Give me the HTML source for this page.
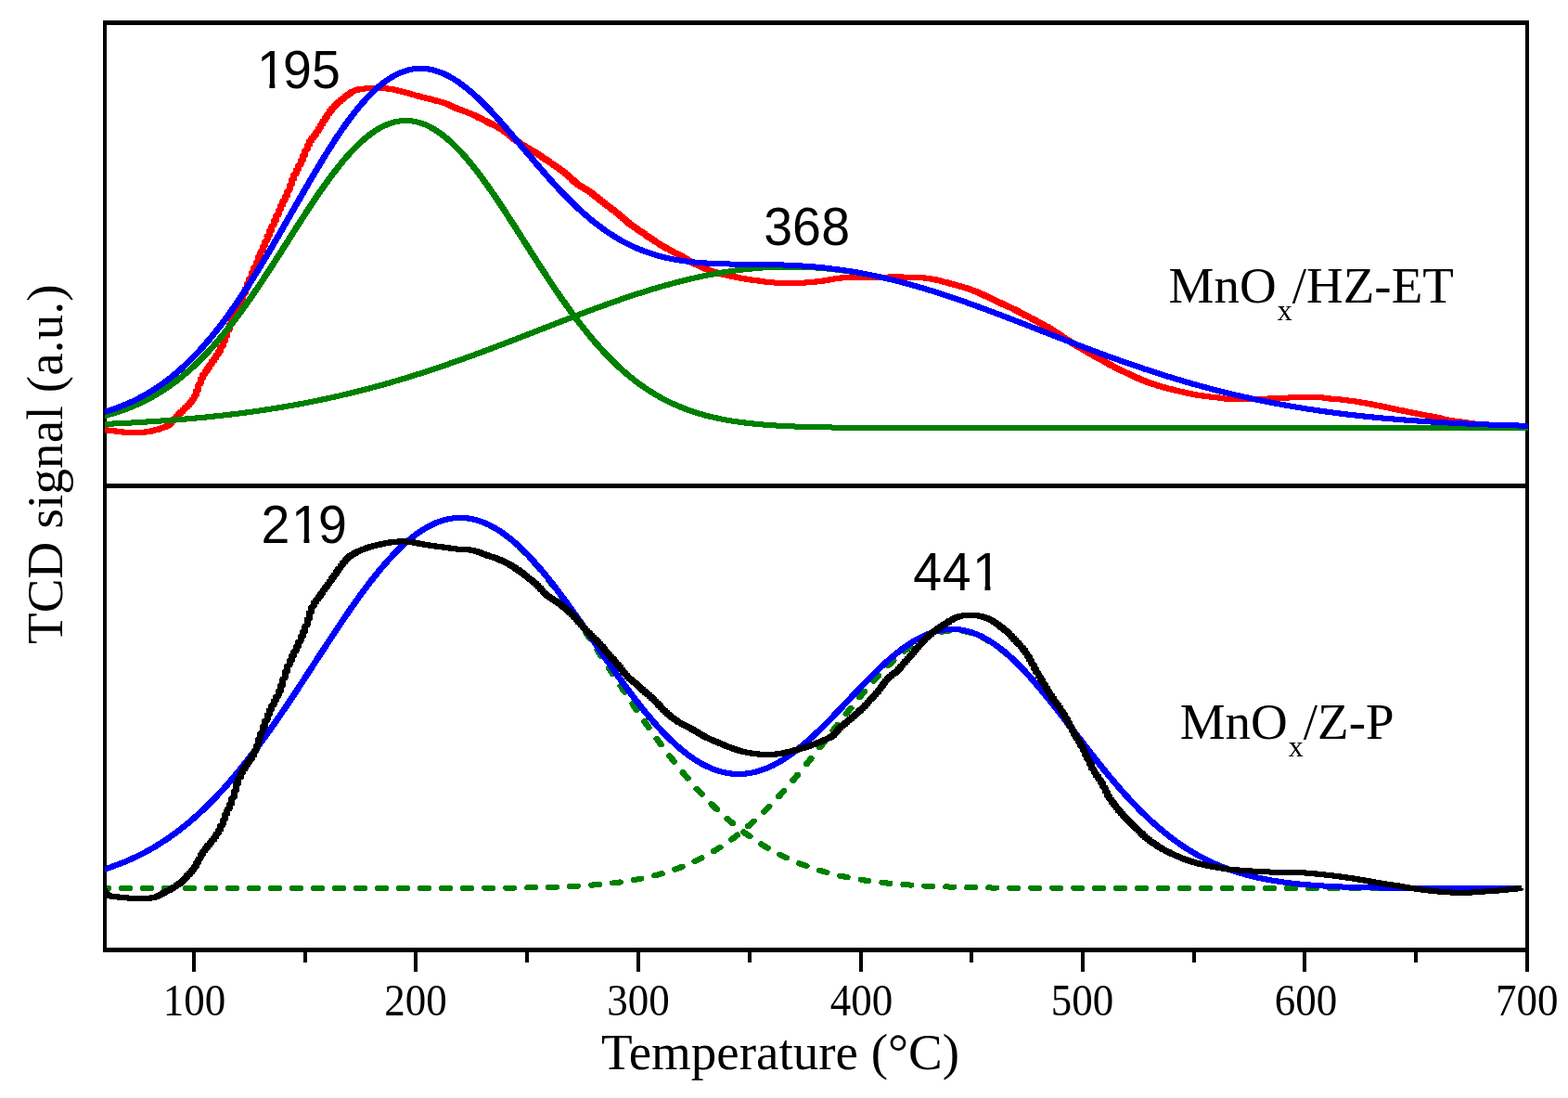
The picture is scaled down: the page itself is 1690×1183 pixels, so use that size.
<!DOCTYPE html>
<html lang="en">
<head>
<meta charset="utf-8">
<title>TCD signal vs Temperature</title>
<style>
html,body{margin:0;padding:0;background:#fff;overflow:hidden}
svg{display:block}
</style>
</head>
<body>
<svg xmlns="http://www.w3.org/2000/svg" width="1690" height="1183" viewBox="0 0 1690 1183">
<rect width="1690" height="1183" fill="#fff"/>
<defs><clipPath id="cp"><rect x="113" y="0" width="1540" height="1183"/></clipPath><clipPath id="cd"><rect x="115" y="0" width="1540" height="1183"/></clipPath></defs>
<g fill="#000" shape-rendering="crispEdges">
<rect x="111" y="22" width="1537" height="5"/>
<rect x="111" y="521" width="1537" height="5"/>
<rect x="111" y="1021" width="1537" height="5"/>
<rect x="111" y="22" width="4" height="1004"/>
<rect x="1644" y="22" width="4" height="1025"/>
<rect x="207" y="1024" width="4" height="23"/>
<rect x="446" y="1024" width="4" height="23"/>
<rect x="686" y="1024" width="4" height="23"/>
<rect x="926" y="1024" width="4" height="23"/>
<rect x="1165" y="1024" width="4" height="23"/>
<rect x="1404" y="1024" width="4" height="23"/>
<rect x="327" y="1024" width="4" height="13"/>
<rect x="566" y="1024" width="4" height="13"/>
<rect x="806" y="1024" width="4" height="13"/>
<rect x="1045" y="1024" width="4" height="13"/>
<rect x="1285" y="1024" width="4" height="13"/>
<rect x="1524" y="1024" width="4" height="13"/>
</g>
<g fill="none" stroke-width="6" stroke-linejoin="round" stroke-linecap="butt" clip-path="url(#cp)" shape-rendering="crispEdges">
<path id="cR" transform="translate(-0.5,0)" stroke="#ff0000" d="M108.4,462.9 L108.4,462.9 L110.8,463.0 L110.8,463.1 L113.2,463.1 L113.2,463.3 L115.6,463.4 L115.6,463.6 L118.0,463.6 L118.0,463.8 L120.4,463.9 L120.4,464.1 L122.8,464.1 L122.8,464.4 L125.2,464.4 L125.2,464.7 L127.6,464.7 L127.6,465.0 L130.0,465.0 L130.0,465.3 L132.4,465.3 L132.4,465.6 L134.8,465.6 L134.8,465.8 L137.2,465.8 L137.2,465.9 L139.5,465.9 L139.5,465.9 L141.9,465.9 L141.9,465.9 L144.3,465.9 L144.3,465.9 L146.7,465.9 L146.7,465.9 L149.1,465.9 L149.1,465.9 L151.5,465.9 L151.5,465.9 L153.9,465.8 L153.9,465.7 L156.3,465.7 L156.3,465.4 L158.7,465.4 L158.7,465.1 L161.1,465.0 L161.1,464.6 L163.5,464.6 L163.5,464.1 L165.9,464.0 L165.9,463.5 L168.3,463.4 L168.3,462.9 L170.7,462.8 L170.7,462.1 L173.1,462.0 L173.1,461.4 L175.5,461.2 L175.5,460.6 L177.9,460.5 L177.9,459.7 L180.3,459.6 L180.3,458.4 L182.7,458.2 L182.7,456.5 L185.1,456.1 L185.1,453.9 L187.4,453.5 L187.4,451.3 L189.8,450.9 L189.8,448.7 L192.2,448.3 L192.2,446.1 L194.6,445.7 L194.6,443.6 L197.0,443.3 L197.0,441.3 L199.4,440.9 L199.4,439.0 L201.8,438.7 L201.8,436.7 L204.2,436.3 L204.2,434.1 L206.6,433.6 L206.6,430.9 L209.0,430.3 L209.0,426.7 L211.4,426.0 L211.4,421.1 L213.8,420.1 L213.8,414.4 L216.2,413.4 L216.2,408.3 L218.6,407.5 L218.6,403.8 L221.0,403.3 L221.0,400.2 L223.4,399.6 L223.4,396.6 L225.8,396.0 L225.8,392.9 L228.2,392.4 L228.2,389.4 L230.6,388.9 L230.6,386.0 L232.9,385.5 L232.9,382.6 L235.3,382.0 L235.3,378.7 L237.7,378.1 L237.7,374.0 L240.1,373.3 L240.1,368.5 L242.5,367.6 L242.5,362.4 L244.9,361.5 L244.9,356.2 L247.3,355.2 L247.3,350.1 L249.7,349.2 L249.7,344.3 L252.1,343.5 L252.1,338.8 L254.5,338.0 L254.5,333.5 L256.9,332.7 L256.9,328.1 L259.3,327.3 L259.3,322.7 L261.7,321.9 L261.7,317.1 L264.1,316.3 L264.1,311.5 L266.5,310.6 L266.5,305.7 L268.9,304.8 L268.9,299.9 L271.3,299.1 L271.3,294.1 L273.7,293.3 L273.7,288.3 L276.1,287.5 L276.1,282.6 L278.5,281.7 L278.5,276.8 L280.9,276.0 L280.9,271.2 L283.2,270.3 L283.2,265.6 L285.6,264.7 L285.6,260.0 L288.0,259.2 L288.0,254.5 L290.4,253.6 L290.4,249.0 L292.8,248.1 L292.8,243.5 L295.2,242.6 L295.2,237.9 L297.6,237.1 L297.6,232.4 L300.0,231.5 L300.0,226.8 L302.4,225.9 L302.4,221.4 L304.8,220.6 L304.8,216.5 L307.2,215.7 L307.2,211.7 L309.6,210.9 L309.6,206.3 L312.0,205.4 L312.0,200.0 L314.4,199.0 L314.4,193.6 L316.8,192.7 L316.8,188.1 L319.2,187.4 L319.2,183.3 L321.6,182.6 L321.6,178.4 L324.0,177.7 L324.0,173.2 L326.4,172.4 L326.4,167.7 L328.8,166.9 L328.8,162.1 L331.1,161.3 L331.1,156.7 L333.5,155.9 L333.5,152.1 L335.9,151.5 L335.9,148.6 L338.3,148.2 L338.3,145.6 L340.7,145.2 L340.7,142.2 L343.1,141.6 L343.1,138.3 L345.5,137.7 L345.5,134.3 L347.9,133.7 L347.9,130.4 L350.3,129.8 L350.3,126.6 L352.7,126.0 L352.7,123.0 L355.1,122.4 L355.1,119.6 L357.5,119.2 L357.5,116.7 L359.9,116.3 L359.9,114.1 L362.3,113.7 L362.3,111.7 L364.7,111.4 L364.7,109.5 L367.1,109.2 L367.1,107.5 L369.5,107.2 L369.5,105.5 L371.9,105.2 L371.9,103.6 L374.3,103.4 L374.3,101.8 L376.6,101.6 L376.6,100.2 L379.0,100.0 L379.0,98.8 L381.4,98.6 L381.4,97.7 L383.8,97.5 L383.8,96.8 L386.2,96.7 L386.2,96.2 L388.6,96.1 L388.6,95.8 L391.0,95.8 L391.0,95.5 L393.4,95.5 L393.4,95.3 L395.8,95.3 L395.8,95.2 L398.2,95.1 L398.2,95.1 L400.6,95.0 L400.6,95.0 L403.0,95.0 L403.0,95.0 L405.4,95.0 L405.4,95.0 L407.8,95.0 L407.8,95.0 L410.2,95.0 L410.2,95.1 L412.6,95.1 L412.6,95.2 L415.0,95.2 L415.0,95.4 L417.4,95.4 L417.4,95.6 L419.8,95.7 L419.8,96.0 L422.2,96.0 L422.2,96.4 L424.6,96.4 L424.6,96.8 L426.9,96.9 L426.9,97.4 L429.3,97.5 L429.3,97.9 L431.7,98.0 L431.7,98.5 L434.1,98.6 L434.1,99.1 L436.5,99.2 L436.5,99.7 L438.9,99.8 L438.9,100.5 L441.3,100.6 L441.3,101.2 L443.7,101.3 L443.7,101.9 L446.1,102.0 L446.1,102.5 L448.5,102.6 L448.5,103.2 L450.9,103.3 L450.9,103.8 L453.3,103.9 L453.3,104.4 L455.7,104.5 L455.7,105.0 L458.1,105.1 L458.1,105.6 L460.5,105.7 L460.5,106.2 L462.9,106.3 L462.9,106.8 L465.3,106.9 L465.3,107.4 L467.7,107.5 L467.7,108.1 L470.1,108.2 L470.1,108.7 L472.4,108.8 L472.4,109.4 L474.8,109.5 L474.8,110.0 L477.2,110.1 L477.2,110.7 L479.6,110.8 L479.6,111.5 L482.0,111.7 L482.0,112.5 L484.4,112.6 L484.4,113.6 L486.8,113.8 L486.8,114.8 L489.2,115.0 L489.2,115.9 L491.6,116.1 L491.6,116.9 L494.0,117.0 L494.0,117.8 L496.4,117.9 L496.4,118.6 L498.8,118.8 L498.8,119.6 L501.2,119.7 L501.2,120.5 L503.6,120.6 L503.6,121.4 L506.0,121.6 L506.0,122.4 L508.4,122.5 L508.4,123.4 L510.8,123.6 L510.8,124.5 L513.2,124.7 L513.2,125.6 L515.6,125.8 L515.6,126.9 L518.0,127.0 L518.0,128.1 L520.4,128.3 L520.4,129.4 L522.7,129.6 L522.7,130.6 L525.1,130.8 L525.1,131.9 L527.5,132.0 L527.5,133.0 L529.9,133.2 L529.9,134.2 L532.3,134.3 L532.3,135.3 L534.7,135.5 L534.7,136.5 L537.1,136.7 L537.1,137.8 L539.5,138.0 L539.5,139.3 L541.9,139.5 L541.9,140.9 L544.3,141.1 L544.3,142.6 L546.7,142.9 L546.7,144.5 L549.1,144.8 L549.1,146.6 L551.5,146.9 L551.5,148.6 L553.9,148.8 L553.9,150.4 L556.3,150.7 L556.3,152.1 L558.7,152.4 L558.7,153.8 L561.1,154.0 L561.1,155.3 L563.5,155.6 L563.5,156.9 L565.9,157.1 L565.9,158.3 L568.2,158.6 L568.2,159.8 L570.6,160.0 L570.6,161.2 L573.0,161.4 L573.0,162.6 L575.4,162.8 L575.4,164.0 L577.8,164.2 L577.8,165.5 L580.2,165.7 L580.2,167.1 L582.6,167.3 L582.6,168.7 L585.0,168.9 L585.0,170.3 L587.4,170.5 L587.4,171.9 L589.8,172.2 L589.8,173.6 L592.2,173.8 L592.2,175.2 L594.6,175.5 L594.6,176.8 L597.0,177.1 L597.0,178.4 L599.4,178.7 L599.4,180.1 L601.8,180.3 L601.8,181.8 L604.2,182.0 L604.2,183.5 L606.6,183.8 L606.6,185.4 L609.0,185.7 L609.0,187.4 L611.4,187.7 L611.4,189.5 L613.8,189.8 L613.8,191.6 L616.1,191.9 L616.1,193.8 L618.5,194.1 L618.5,195.9 L620.9,196.2 L620.9,197.8 L623.3,198.1 L623.3,199.5 L625.7,199.8 L625.7,201.1 L628.1,201.3 L628.1,202.5 L630.5,202.8 L630.5,204.0 L632.9,204.2 L632.9,205.6 L635.3,205.8 L635.3,207.3 L637.7,207.5 L637.7,209.0 L640.1,209.3 L640.1,210.9 L642.5,211.2 L642.5,212.8 L644.9,213.1 L644.9,214.7 L647.3,215.0 L647.3,216.6 L649.7,216.9 L649.7,218.5 L652.1,218.8 L652.1,220.4 L654.5,220.6 L654.5,222.2 L656.9,222.5 L656.9,224.0 L659.3,224.3 L659.3,225.8 L661.7,226.1 L661.7,227.6 L664.0,227.9 L664.0,229.5 L666.4,229.8 L666.4,231.5 L668.8,231.9 L668.8,233.6 L671.2,233.9 L671.2,235.7 L673.6,236.0 L673.6,237.8 L676.0,238.1 L676.0,239.8 L678.4,240.1 L678.4,241.7 L680.8,241.9 L680.8,243.4 L683.2,243.7 L683.2,245.1 L685.6,245.4 L685.6,246.7 L688.0,247.0 L688.0,248.4 L690.4,248.6 L690.4,250.0 L692.8,250.2 L692.8,251.6 L695.2,251.9 L695.2,253.3 L697.6,253.5 L697.6,254.9 L700.0,255.2 L700.0,256.6 L702.4,256.8 L702.4,258.2 L704.8,258.4 L704.8,259.7 L707.2,260.0 L707.2,261.3 L709.6,261.5 L709.6,262.7 L712.0,263.0 L712.0,264.2 L714.3,264.4 L714.3,265.6 L716.7,265.9 L716.7,267.0 L719.1,267.2 L719.1,268.4 L721.5,268.6 L721.5,269.7 L723.9,269.9 L723.9,271.0 L726.3,271.2 L726.3,272.3 L728.7,272.5 L728.7,273.5 L731.1,273.7 L731.1,274.8 L733.5,275.0 L733.5,276.1 L735.9,276.2 L735.9,277.4 L738.3,277.6 L738.3,278.8 L740.7,279.0 L740.7,280.2 L743.1,280.4 L743.1,281.6 L745.5,281.8 L745.5,282.9 L747.9,283.1 L747.9,284.2 L750.3,284.4 L750.3,285.4 L752.7,285.6 L752.7,286.6 L755.1,286.8 L755.1,287.7 L757.5,287.9 L757.5,288.7 L759.9,288.9 L759.9,289.7 L762.2,289.9 L762.2,290.7 L764.6,290.8 L764.6,291.5 L767.0,291.7 L767.0,292.4 L769.4,292.5 L769.4,293.2 L771.8,293.3 L771.8,293.9 L774.2,294.0 L774.2,294.6 L776.6,294.7 L776.6,295.2 L779.0,295.3 L779.0,295.8 L781.4,295.8 L781.4,296.3 L783.8,296.4 L783.8,296.8 L786.2,296.9 L786.2,297.3 L788.6,297.4 L788.6,297.9 L791.0,297.9 L791.0,298.4 L793.4,298.4 L793.4,298.9 L795.8,298.9 L795.8,299.3 L798.2,299.4 L798.2,299.8 L800.6,299.9 L800.6,300.2 L803.0,300.3 L803.0,300.6 L805.4,300.7 L805.4,301.0 L807.8,301.1 L807.8,301.4 L810.1,301.4 L810.1,301.7 L812.5,301.8 L812.5,302.1 L814.9,302.1 L814.9,302.4 L817.3,302.4 L817.3,302.7 L819.7,302.8 L819.7,303.1 L822.1,303.1 L822.1,303.4 L824.5,303.5 L824.5,303.7 L826.9,303.8 L826.9,304.0 L829.3,304.0 L829.3,304.2 L831.7,304.3 L831.7,304.4 L834.1,304.4 L834.1,304.5 L836.5,304.6 L836.5,304.7 L838.9,304.7 L838.9,304.8 L841.3,304.8 L841.3,304.9 L843.7,304.9 L843.7,304.9 L846.1,304.9 L846.1,304.9 L848.5,304.9 L848.5,304.9 L850.9,304.9 L850.9,304.9 L853.3,304.9 L853.3,304.9 L855.6,304.9 L855.6,304.9 L858.0,304.9 L858.0,304.9 L860.4,304.9 L860.4,304.8 L862.8,304.8 L862.8,304.8 L865.2,304.7 L865.2,304.6 L867.6,304.6 L867.6,304.5 L870.0,304.4 L870.0,304.3 L872.4,304.2 L872.4,304.1 L874.8,304.0 L874.8,303.9 L877.2,303.8 L877.2,303.6 L879.6,303.6 L879.6,303.3 L882.0,303.3 L882.0,303.0 L884.4,303.0 L884.4,302.7 L886.8,302.7 L886.8,302.4 L889.2,302.3 L889.2,301.9 L891.6,301.9 L891.6,301.5 L894.0,301.5 L894.0,301.1 L896.4,301.1 L896.4,300.8 L898.8,300.7 L898.8,300.4 L901.2,300.4 L901.2,300.1 L903.5,300.0 L903.5,299.7 L905.9,299.7 L905.9,299.4 L908.3,299.4 L908.3,299.2 L910.7,299.1 L910.7,299.0 L913.1,299.0 L913.1,299.0 L915.5,299.0 L915.5,299.0 L917.9,299.0 L917.9,299.0 L920.3,299.0 L920.3,299.0 L922.7,299.0 L922.7,299.0 L925.1,299.0 L925.1,299.0 L927.5,299.0 L927.5,299.0 L929.9,299.0 L929.9,299.0 L932.3,299.0 L932.3,298.9 L934.7,298.9 L934.7,298.9 L937.1,298.9 L937.1,298.9 L939.5,298.8 L939.5,298.8 L941.9,298.8 L941.9,298.8 L944.3,298.8 L944.3,298.7 L946.7,298.7 L946.7,298.7 L949.1,298.7 L949.1,298.6 L951.5,298.6 L951.5,298.6 L953.8,298.5 L953.8,298.5 L956.2,298.5 L956.2,298.5 L958.6,298.5 L958.6,298.4 L961.0,298.4 L961.0,298.4 L963.4,298.4 L963.4,298.3 L965.8,298.3 L965.8,298.3 L968.2,298.3 L968.2,298.3 L970.6,298.3 L970.6,298.4 L973.0,298.4 L973.0,298.5 L975.4,298.5 L975.4,298.6 L977.8,298.6 L977.8,298.7 L980.2,298.7 L980.2,298.9 L982.6,298.9 L982.6,298.9 L985.0,299.0 L985.0,299.0 L987.4,299.0 L987.4,299.1 L989.8,299.1 L989.8,299.2 L992.2,299.2 L992.2,299.3 L994.6,299.3 L994.6,299.4 L997.0,299.5 L997.0,299.7 L999.4,299.7 L999.4,300.0 L1001.7,300.0 L1001.7,300.4 L1004.1,300.4 L1004.1,300.8 L1006.5,300.9 L1006.5,301.2 L1008.9,301.3 L1008.9,301.7 L1011.3,301.8 L1011.3,302.3 L1013.7,302.4 L1013.7,302.9 L1016.1,303.0 L1016.1,303.6 L1018.5,303.7 L1018.5,304.2 L1020.9,304.3 L1020.9,304.9 L1023.3,305.0 L1023.3,305.6 L1025.7,305.7 L1025.7,306.2 L1028.1,306.3 L1028.1,306.8 L1030.5,306.9 L1030.5,307.5 L1032.9,307.6 L1032.9,308.2 L1035.3,308.3 L1035.3,308.9 L1037.7,309.0 L1037.7,309.6 L1040.1,309.7 L1040.1,310.3 L1042.5,310.4 L1042.5,311.1 L1044.9,311.2 L1044.9,311.9 L1047.2,312.0 L1047.2,312.7 L1049.6,312.8 L1049.6,313.6 L1052.0,313.7 L1052.0,314.6 L1054.4,314.7 L1054.4,315.6 L1056.8,315.8 L1056.8,316.7 L1059.2,316.9 L1059.2,317.8 L1061.6,318.0 L1061.6,319.0 L1064.0,319.1 L1064.0,320.1 L1066.4,320.3 L1066.4,321.3 L1068.8,321.4 L1068.8,322.4 L1071.2,322.6 L1071.2,323.6 L1073.6,323.7 L1073.6,324.7 L1076.0,324.9 L1076.0,325.9 L1078.4,326.0 L1078.4,327.0 L1080.8,327.2 L1080.8,328.1 L1083.2,328.3 L1083.2,329.2 L1085.6,329.4 L1085.6,330.3 L1088.0,330.4 L1088.0,331.4 L1090.4,331.5 L1090.4,332.5 L1092.8,332.7 L1092.8,333.7 L1095.2,333.9 L1095.2,334.9 L1097.5,335.1 L1097.5,336.2 L1099.9,336.4 L1099.9,337.5 L1102.3,337.7 L1102.3,338.7 L1104.7,338.9 L1104.7,340.0 L1107.1,340.2 L1107.1,341.2 L1109.5,341.4 L1109.5,342.5 L1111.9,342.7 L1111.9,343.7 L1114.3,343.9 L1114.3,345.0 L1116.7,345.2 L1116.7,346.2 L1119.1,346.4 L1119.1,347.5 L1121.5,347.7 L1121.5,348.8 L1123.9,349.0 L1123.9,350.1 L1126.3,350.3 L1126.3,351.4 L1128.7,351.6 L1128.7,352.8 L1131.1,353.0 L1131.1,354.2 L1133.5,354.4 L1133.5,355.7 L1135.9,355.9 L1135.9,357.3 L1138.3,357.5 L1138.3,358.9 L1140.7,359.1 L1140.7,360.5 L1143.0,360.8 L1143.0,362.2 L1145.4,362.4 L1145.4,363.8 L1147.8,364.0 L1147.8,365.3 L1150.2,365.5 L1150.2,366.8 L1152.6,367.0 L1152.6,368.3 L1155.0,368.5 L1155.0,369.8 L1157.4,370.0 L1157.4,371.2 L1159.8,371.5 L1159.8,372.7 L1162.2,372.9 L1162.2,374.2 L1164.6,374.4 L1164.6,375.6 L1167.0,375.8 L1167.0,377.1 L1169.4,377.3 L1169.4,378.5 L1171.8,378.7 L1171.8,379.9 L1174.2,380.1 L1174.2,381.3 L1176.6,381.5 L1176.6,382.6 L1179.0,382.8 L1179.0,383.9 L1181.4,384.0 L1181.4,385.1 L1183.8,385.3 L1183.8,386.3 L1186.2,386.5 L1186.2,387.6 L1188.6,387.8 L1188.6,388.9 L1191.0,389.1 L1191.0,390.3 L1193.3,390.5 L1193.3,391.7 L1195.7,391.9 L1195.7,393.1 L1198.1,393.3 L1198.1,394.4 L1200.5,394.6 L1200.5,395.7 L1202.9,395.9 L1202.9,397.0 L1205.3,397.1 L1205.3,398.1 L1207.7,398.3 L1207.7,399.3 L1210.1,399.4 L1210.1,400.3 L1212.5,400.5 L1212.5,401.4 L1214.9,401.6 L1214.9,402.5 L1217.3,402.7 L1217.3,403.7 L1219.7,403.8 L1219.7,404.8 L1222.1,405.0 L1222.1,406.0 L1224.5,406.2 L1224.5,407.1 L1226.9,407.3 L1226.9,408.2 L1229.3,408.3 L1229.3,409.2 L1231.7,409.3 L1231.7,410.1 L1234.1,410.3 L1234.1,411.0 L1236.5,411.2 L1236.5,411.9 L1238.8,412.0 L1238.8,412.8 L1241.2,412.9 L1241.2,413.6 L1243.6,413.7 L1243.6,414.4 L1246.0,414.5 L1246.0,415.1 L1248.4,415.2 L1248.4,415.9 L1250.8,416.0 L1250.8,416.6 L1253.2,416.7 L1253.2,417.3 L1255.6,417.4 L1255.6,417.9 L1258.0,418.0 L1258.0,418.6 L1260.4,418.7 L1260.4,419.2 L1262.8,419.3 L1262.8,419.8 L1265.2,419.9 L1265.2,420.4 L1267.6,420.5 L1267.6,420.9 L1270.0,421.0 L1270.0,421.5 L1272.4,421.6 L1272.4,422.1 L1274.8,422.2 L1274.8,422.6 L1277.2,422.7 L1277.2,423.2 L1279.6,423.3 L1279.6,423.7 L1282.0,423.8 L1282.0,424.3 L1284.4,424.3 L1284.4,424.7 L1286.8,424.8 L1286.8,425.1 L1289.1,425.2 L1289.1,425.6 L1291.5,425.6 L1291.5,425.9 L1293.9,426.0 L1293.9,426.3 L1296.3,426.3 L1296.3,426.6 L1298.7,426.7 L1298.7,426.9 L1301.1,427.0 L1301.1,427.2 L1303.5,427.3 L1303.5,427.5 L1305.9,427.5 L1305.9,427.7 L1308.3,427.8 L1308.3,428.0 L1310.7,428.0 L1310.7,428.3 L1313.1,428.3 L1313.1,428.6 L1315.5,428.7 L1315.5,429.0 L1317.9,429.1 L1317.9,429.4 L1320.3,429.5 L1320.3,429.7 L1322.7,429.8 L1322.7,429.9 L1325.1,430.0 L1325.1,430.0 L1327.5,430.0 L1327.5,430.0 L1329.9,430.1 L1329.9,430.1 L1332.3,430.1 L1332.3,430.1 L1334.7,430.1 L1334.7,430.1 L1337.0,430.1 L1337.0,430.1 L1339.4,430.1 L1339.4,430.1 L1341.8,430.1 L1341.8,430.1 L1344.2,430.1 L1344.2,430.1 L1346.6,430.1 L1346.6,430.1 L1349.0,430.1 L1349.0,430.0 L1351.4,430.0 L1351.4,430.0 L1353.8,430.0 L1353.8,430.0 L1356.2,430.0 L1356.2,429.9 L1358.6,429.9 L1358.6,429.9 L1361.0,429.9 L1361.0,429.8 L1363.4,429.8 L1363.4,429.7 L1365.8,429.6 L1365.8,429.5 L1368.2,429.5 L1368.2,429.3 L1370.6,429.3 L1370.6,429.1 L1373.0,429.1 L1373.0,429.0 L1375.4,429.0 L1375.4,428.9 L1377.8,428.9 L1377.8,428.8 L1380.2,428.8 L1380.2,428.7 L1382.5,428.7 L1382.5,428.6 L1384.9,428.6 L1384.9,428.6 L1387.3,428.6 L1387.3,428.5 L1389.7,428.5 L1389.7,428.4 L1392.1,428.4 L1392.1,428.3 L1394.5,428.3 L1394.5,428.2 L1396.9,428.2 L1396.9,428.1 L1399.3,428.1 L1399.3,428.0 L1401.7,428.0 L1401.7,428.0 L1404.1,428.0 L1404.1,428.0 L1406.5,428.0 L1406.5,428.0 L1408.9,428.0 L1408.9,428.0 L1411.3,428.0 L1411.3,428.0 L1413.7,428.0 L1413.7,428.0 L1416.1,428.0 L1416.1,428.0 L1418.5,428.0 L1418.5,428.1 L1420.9,428.1 L1420.9,428.2 L1423.3,428.2 L1423.3,428.4 L1425.7,428.4 L1425.7,428.6 L1428.1,428.7 L1428.1,428.9 L1430.5,429.0 L1430.5,429.2 L1432.8,429.2 L1432.8,429.5 L1435.2,429.5 L1435.2,429.7 L1437.6,429.7 L1437.6,429.9 L1440.0,430.0 L1440.0,430.1 L1442.4,430.2 L1442.4,430.4 L1444.8,430.4 L1444.8,430.6 L1447.2,430.7 L1447.2,430.9 L1449.6,430.9 L1449.6,431.2 L1452.0,431.2 L1452.0,431.5 L1454.4,431.5 L1454.4,431.8 L1456.8,431.8 L1456.8,432.1 L1459.2,432.2 L1459.2,432.4 L1461.6,432.5 L1461.6,432.8 L1464.0,432.9 L1464.0,433.2 L1466.4,433.2 L1466.4,433.6 L1468.8,433.6 L1468.8,434.0 L1471.2,434.1 L1471.2,434.4 L1473.6,434.5 L1473.6,434.9 L1476.0,435.0 L1476.0,435.3 L1478.3,435.4 L1478.3,435.8 L1480.7,435.9 L1480.7,436.3 L1483.1,436.4 L1483.1,436.8 L1485.5,436.8 L1485.5,437.3 L1487.9,437.3 L1487.9,437.8 L1490.3,437.8 L1490.3,438.3 L1492.7,438.3 L1492.7,438.8 L1495.1,438.9 L1495.1,439.3 L1497.5,439.4 L1497.5,439.8 L1499.9,439.9 L1499.9,440.3 L1502.3,440.4 L1502.3,440.8 L1504.7,440.9 L1504.7,441.3 L1507.1,441.4 L1507.1,441.8 L1509.5,441.9 L1509.5,442.3 L1511.9,442.3 L1511.9,442.7 L1514.3,442.8 L1514.3,443.2 L1516.7,443.3 L1516.7,443.7 L1519.1,443.7 L1519.1,444.1 L1521.5,444.2 L1521.5,444.6 L1523.9,444.7 L1523.9,445.1 L1526.2,445.2 L1526.2,445.6 L1528.6,445.7 L1528.6,446.1 L1531.0,446.2 L1531.0,446.6 L1533.4,446.7 L1533.4,447.1 L1535.8,447.2 L1535.8,447.5 L1538.2,447.6 L1538.2,448.0 L1540.6,448.1 L1540.6,448.4 L1543.0,448.5 L1543.0,448.9 L1545.4,449.0 L1545.4,449.4 L1547.8,449.4 L1547.8,449.8 L1550.2,449.9 L1550.2,450.4 L1552.6,450.4 L1552.6,450.9 L1555.0,451.0 L1555.0,451.5 L1557.4,451.6 L1557.4,452.1 L1559.8,452.2 L1559.8,452.6 L1562.2,452.7 L1562.2,453.0 L1564.6,453.1 L1564.6,453.4 L1567.0,453.5 L1567.0,453.7 L1569.4,453.8 L1569.4,454.0 L1571.8,454.1 L1571.8,454.3 L1574.2,454.3 L1574.2,454.6 L1576.5,454.6 L1576.5,454.9 L1578.9,455.0 L1578.9,455.3 L1581.3,455.3 L1581.3,455.6 L1583.7,455.7 L1583.7,456.0 L1586.1,456.0 L1586.1,456.3 L1588.5,456.3 L1588.5,456.6 L1590.9,456.6 L1590.9,456.8 L1593.3,456.9 L1593.3,457.1 L1595.7,457.1 L1595.7,457.3 L1598.1,457.3 L1598.1,457.4 L1600.5,457.5 L1600.5,457.6 L1602.9,457.6 L1602.9,457.7 L1605.3,457.7 L1605.3,457.8 L1607.7,457.9 L1607.7,458.0 L1610.1,458.0 L1610.1,458.1 L1612.5,458.1 L1612.5,458.1 L1614.9,458.2 L1614.9,458.2 L1617.3,458.2 L1617.3,458.3 L1619.7,458.3 L1619.7,458.3 L1622.0,458.3 L1622.0,458.3 L1624.4,458.3 L1624.4,458.4 L1626.8,458.4 L1626.8,458.4 L1629.2,458.4 L1629.2,458.4 L1631.6,458.4 L1631.6,458.4 L1634.0,458.4 L1634.0,458.5 L1636.4,458.5 L1636.4,458.5 L1638.8,458.5 L1638.8,458.5 L1641.2,458.5 L1641.2,458.5 L1643.6,458.5 L1643.6,458.5 L1646.0,458.5 L1646.0,458.5 L1646.5,458.5"/>
<use href="#cR" x="1.0"/>
<path id="cG1" transform="translate(-0.5,0)" stroke="#008000" d="M110.0,448.7 L112.0,448.2 L114.0,447.7 L116.0,447.2 L118.0,446.6 L120.0,446.0 L122.0,445.4 L124.0,444.8 L126.0,444.2 L128.0,443.5 L130.0,442.9 L132.0,442.2 L134.0,441.4 L136.0,440.7 L138.0,439.9 L140.0,439.2 L142.0,438.3 L144.0,437.5 L146.0,436.6 L148.0,435.8 L150.0,434.9 L152.0,433.9 L154.0,433.0 L156.0,432.0 L158.0,430.9 L160.0,429.9 L162.0,428.8 L164.0,427.7 L166.0,426.6 L168.0,425.4 L170.0,424.2 L172.0,423.0 L174.0,421.8 L176.0,420.5 L178.0,419.1 L180.0,417.8 L182.0,416.4 L184.0,415.0 L186.0,413.5 L188.0,412.1 L190.0,410.5 L192.0,409.0 L194.0,407.4 L196.0,405.8 L198.0,404.1 L200.0,402.4 L202.0,400.7 L204.0,399.0 L206.0,397.2 L208.0,395.3 L210.0,393.5 L212.0,391.6 L214.0,389.6 L216.0,387.6 L218.0,385.6 L220.0,383.6 L222.0,381.5 L224.0,379.4 L226.0,377.2 L228.0,375.0 L230.0,372.8 L232.0,370.5 L234.0,368.2 L236.0,365.9 L238.0,363.5 L240.0,361.1 L242.0,358.6 L244.0,356.2 L246.0,353.7 L248.0,351.1 L250.0,348.6 L252.0,345.9 L254.0,343.3 L256.0,340.6 L258.0,337.9 L260.0,335.2 L262.0,332.5 L264.0,329.7 L266.0,326.9 L268.0,324.0 L270.0,321.2 L272.0,318.3 L274.0,315.4 L276.0,312.4 L278.0,309.5 L280.0,306.5 L282.0,303.5 L284.0,300.5 L286.0,297.4 L288.0,294.4 L290.0,291.3 L292.0,288.2 L294.0,285.1 L296.0,282.0 L298.0,278.9 L300.0,275.8 L302.0,272.7 L304.0,269.5 L306.0,266.4 L308.0,263.2 L310.0,260.1 L312.0,256.9 L314.0,253.8 L316.0,250.6 L318.0,247.5 L320.0,244.4 L322.0,241.3 L324.0,238.1 L326.0,235.0 L328.0,232.0 L330.0,228.9 L332.0,225.8 L334.0,222.8 L336.0,219.8 L338.0,216.8 L340.0,213.8 L342.0,210.9 L344.0,207.9 L346.0,205.0 L348.0,202.2 L350.0,199.4 L352.0,196.6 L354.0,193.8 L356.0,191.1 L358.0,188.4 L360.0,185.8 L362.0,183.2 L364.0,180.6 L366.0,178.1 L368.0,175.6 L370.0,173.2 L372.0,170.9 L374.0,168.6 L376.0,166.3 L378.0,164.1 L380.0,162.0 L382.0,159.9 L384.0,157.9 L386.0,155.9 L388.0,154.0 L390.0,152.2 L392.0,150.4 L394.0,148.7 L396.0,147.1 L398.0,145.5 L400.0,144.0 L402.0,142.6 L404.0,141.2 L406.0,139.9 L408.0,138.7 L410.0,137.6 L412.0,136.5 L414.0,135.6 L416.0,134.7 L418.0,133.8 L420.0,133.1 L422.0,132.4 L424.0,131.8 L426.0,131.3 L428.0,130.9 L430.0,130.6 L432.0,130.3 L434.0,130.1 L436.0,130.0 L438.0,130.0 L440.0,130.1 L442.0,130.2 L444.0,130.4 L446.0,130.7 L448.0,131.1 L450.0,131.6 L452.0,132.1 L454.0,132.8 L456.0,133.5 L458.0,134.2 L460.0,135.1 L462.0,136.0 L464.0,137.1 L466.0,138.2 L468.0,139.3 L470.0,140.6 L472.0,141.9 L474.0,143.3 L476.0,144.7 L478.0,146.3 L480.0,147.9 L482.0,149.5 L484.0,151.3 L486.0,153.1 L488.0,154.9 L490.0,156.9 L492.0,158.9 L494.0,160.9 L496.0,163.0 L498.0,165.2 L500.0,167.4 L502.0,169.7 L504.0,172.0 L506.0,174.4 L508.0,176.9 L510.0,179.3 L512.0,181.9 L514.0,184.4 L516.0,187.1 L518.0,189.7 L520.0,192.4 L522.0,195.2 L524.0,197.9 L526.0,200.8 L528.0,203.6 L530.0,206.5 L532.0,209.4 L534.0,212.3 L536.0,215.3 L538.0,218.3 L540.0,221.3 L542.0,224.3 L544.0,227.4 L546.0,230.4 L548.0,233.5 L550.0,236.6 L552.0,239.7 L554.0,242.8 L556.0,245.9 L558.0,249.1 L560.0,252.2 L562.0,255.4 L564.0,258.5 L566.0,261.7 L568.0,264.8 L570.0,267.9 L572.0,271.1 L574.0,274.2 L576.0,277.3 L578.0,280.5 L580.0,283.6 L582.0,286.7 L584.0,289.8 L586.0,292.8 L588.0,295.9 L590.0,298.9 L592.0,302.0 L594.0,305.0 L596.0,308.0 L598.0,310.9 L600.0,313.9 L602.0,316.8 L604.0,319.7 L606.0,322.6 L608.0,325.4 L610.0,328.3 L612.0,331.1 L614.0,333.8 L616.0,336.6 L618.0,339.3 L620.0,342.0 L622.0,344.6 L624.0,347.3 L626.0,349.8 L628.0,352.4 L630.0,354.9 L632.0,357.4 L634.0,359.9 L636.0,362.3 L638.0,364.7 L640.0,367.0 L642.0,369.4 L644.0,371.6 L646.0,373.9 L648.0,376.1 L650.0,378.3 L652.0,380.4 L654.0,382.5 L656.0,384.6 L658.0,386.6 L660.0,388.6 L662.0,390.6 L664.0,392.5 L666.0,394.4 L668.0,396.3 L670.0,398.1 L672.0,399.8 L674.0,401.6 L676.0,403.3 L678.0,405.0 L680.0,406.6 L682.0,408.2 L684.0,409.8 L686.0,411.3 L688.0,412.8 L690.0,414.3 L692.0,415.7 L694.0,417.1 L696.0,418.5 L698.0,419.8 L700.0,421.1 L702.0,422.4 L704.0,423.6 L706.0,424.8 L708.0,426.0 L710.0,427.2 L712.0,428.3 L714.0,429.4 L716.0,430.4 L718.0,431.5 L720.0,432.5 L722.0,433.4 L724.0,434.4 L726.0,435.3 L728.0,436.2 L730.0,437.1 L732.0,437.9 L734.0,438.7 L736.0,439.5 L738.0,440.3 L740.0,441.1 L742.0,441.8 L744.0,442.5 L746.0,443.2 L748.0,443.9 L750.0,444.5 L752.0,445.1 L754.0,445.7 L756.0,446.3 L758.0,446.9 L760.0,447.4 L762.0,448.0 L764.0,448.5 L766.0,449.0 L768.0,449.4 L770.0,449.9 L772.0,450.3 L774.0,450.8 L776.0,451.2 L778.0,451.6 L780.0,452.0 L782.0,452.4 L784.0,452.7 L786.0,453.1 L788.0,453.4 L790.0,453.7 L792.0,454.0 L794.0,454.3 L796.0,454.6 L798.0,454.9 L800.0,455.1 L802.0,455.4 L804.0,455.6 L806.0,455.9 L808.0,456.1 L810.0,456.3 L812.0,456.5 L814.0,456.7 L816.0,456.9 L818.0,457.1 L820.0,457.3 L822.0,457.5 L824.0,457.6 L826.0,457.8 L828.0,457.9 L830.0,458.1 L832.0,458.2 L834.0,458.4 L836.0,458.5 L838.0,458.6 L840.0,458.7 L842.0,458.8 L844.0,458.9 L846.0,459.0 L848.0,459.1 L850.0,459.2 L852.0,459.3 L854.0,459.4 L856.0,459.5 L858.0,459.5 L860.0,459.6 L862.0,459.7 L864.0,459.8 L866.0,459.8 L868.0,459.9 L870.0,459.9 L872.0,460.0 L874.0,460.0 L876.0,460.1 L878.0,460.1 L880.0,460.2 L882.0,460.2 L884.0,460.3 L886.0,460.3 L888.0,460.3 L890.0,460.4 L892.0,460.4 L894.0,460.4 L896.0,460.5 L898.0,460.5 L900.0,460.5 L902.0,460.6 L904.0,460.6 L906.0,460.6 L908.0,460.6 L910.0,460.7 L912.0,460.7 L914.0,460.7 L916.0,460.7 L918.0,460.7 L920.0,460.7 L922.0,460.8 L924.0,460.8 L926.0,460.8 L928.0,460.8 L930.0,460.8 L932.0,460.8 L934.0,460.8 L936.0,460.8 L938.0,460.8 L940.0,460.9 L942.0,460.9 L944.0,460.9 L946.0,460.9 L948.0,460.9 L950.0,460.9 L952.0,460.9 L954.0,460.9 L956.0,460.9 L958.0,460.9 L960.0,460.9 L962.0,460.9 L964.0,460.9 L966.0,460.9 L968.0,460.9 L970.0,460.9 L972.0,460.9 L974.0,461.0 L976.0,461.0 L978.0,461.0 L980.0,461.0 L982.0,461.0 L984.0,461.0 L986.0,461.0 L988.0,461.0 L990.0,461.0 L992.0,461.0 L994.0,461.0 L996.0,461.0 L998.0,461.0 L1000.0,461.0 L1002.0,461.0 L1004.0,461.0 L1006.0,461.0 L1008.0,461.0 L1010.0,461.0 L1012.0,461.0 L1014.0,461.0 L1016.0,461.0 L1018.0,461.0 L1020.0,461.0 L1022.0,461.0 L1024.0,461.0 L1026.0,461.0 L1028.0,461.0 L1030.0,461.0 L1032.0,461.0 L1034.0,461.0 L1036.0,461.0 L1038.0,461.0 L1040.0,461.0 L1042.0,461.0 L1044.0,461.0 L1046.0,461.0 L1048.0,461.0 L1050.0,461.0 L1052.0,461.0 L1054.0,461.0 L1056.0,461.0 L1058.0,461.0 L1060.0,461.0 L1062.0,461.0 L1064.0,461.0 L1066.0,461.0 L1068.0,461.0 L1070.0,461.0 L1072.0,461.0 L1074.0,461.0 L1076.0,461.0 L1078.0,461.0 L1080.0,461.0 L1082.0,461.0 L1084.0,461.0 L1086.0,461.0 L1088.0,461.0 L1090.0,461.0 L1092.0,461.0 L1094.0,461.0 L1096.0,461.0 L1098.0,461.0 L1100.0,461.0 L1102.0,461.0 L1104.0,461.0 L1106.0,461.0 L1108.0,461.0 L1110.0,461.0 L1112.0,461.0 L1114.0,461.0 L1116.0,461.0 L1118.0,461.0 L1120.0,461.0 L1122.0,461.0 L1124.0,461.0 L1126.0,461.0 L1128.0,461.0 L1130.0,461.0 L1132.0,461.0 L1134.0,461.0 L1136.0,461.0 L1138.0,461.0 L1140.0,461.0 L1142.0,461.0 L1144.0,461.0 L1146.0,461.0 L1148.0,461.0 L1150.0,461.0 L1152.0,461.0 L1154.0,461.0 L1156.0,461.0 L1158.0,461.0 L1160.0,461.0 L1162.0,461.0 L1164.0,461.0 L1166.0,461.0 L1168.0,461.0 L1170.0,461.0 L1172.0,461.0 L1174.0,461.0 L1176.0,461.0 L1178.0,461.0 L1180.0,461.0 L1182.0,461.0 L1184.0,461.0 L1186.0,461.0 L1188.0,461.0 L1190.0,461.0 L1192.0,461.0 L1194.0,461.0 L1196.0,461.0 L1198.0,461.0 L1200.0,461.0 L1202.0,461.0 L1204.0,461.0 L1206.0,461.0 L1208.0,461.0 L1210.0,461.0 L1212.0,461.0 L1214.0,461.0 L1216.0,461.0 L1218.0,461.0 L1220.0,461.0 L1222.0,461.0 L1224.0,461.0 L1226.0,461.0 L1228.0,461.0 L1230.0,461.0 L1232.0,461.0 L1234.0,461.0 L1236.0,461.0 L1238.0,461.0 L1240.0,461.0 L1242.0,461.0 L1244.0,461.0 L1246.0,461.0 L1248.0,461.0 L1250.0,461.0 L1252.0,461.0 L1254.0,461.0 L1256.0,461.0 L1258.0,461.0 L1260.0,461.0 L1262.0,461.0 L1264.0,461.0 L1266.0,461.0 L1268.0,461.0 L1270.0,461.0 L1272.0,461.0 L1274.0,461.0 L1276.0,461.0 L1278.0,461.0 L1280.0,461.0 L1282.0,461.0 L1284.0,461.0 L1286.0,461.0 L1288.0,461.0 L1290.0,461.0 L1292.0,461.0 L1294.0,461.0 L1296.0,461.0 L1298.0,461.0 L1300.0,461.0 L1302.0,461.0 L1304.0,461.0 L1306.0,461.0 L1308.0,461.0 L1310.0,461.0 L1312.0,461.0 L1314.0,461.0 L1316.0,461.0 L1318.0,461.0 L1320.0,461.0 L1322.0,461.0 L1324.0,461.0 L1326.0,461.0 L1328.0,461.0 L1330.0,461.0 L1332.0,461.0 L1334.0,461.0 L1336.0,461.0 L1338.0,461.0 L1340.0,461.0 L1342.0,461.0 L1344.0,461.0 L1346.0,461.0 L1348.0,461.0 L1350.0,461.0 L1352.0,461.0 L1354.0,461.0 L1356.0,461.0 L1358.0,461.0 L1360.0,461.0 L1362.0,461.0 L1364.0,461.0 L1366.0,461.0 L1368.0,461.0 L1370.0,461.0 L1372.0,461.0 L1374.0,461.0 L1376.0,461.0 L1378.0,461.0 L1380.0,461.0 L1382.0,461.0 L1384.0,461.0 L1386.0,461.0 L1388.0,461.0 L1390.0,461.0 L1392.0,461.0 L1394.0,461.0 L1396.0,461.0 L1398.0,461.0 L1400.0,461.0 L1402.0,461.0 L1404.0,461.0 L1406.0,461.0 L1408.0,461.0 L1410.0,461.0 L1412.0,461.0 L1414.0,461.0 L1416.0,461.0 L1418.0,461.0 L1420.0,461.0 L1422.0,461.0 L1424.0,461.0 L1426.0,461.0 L1428.0,461.0 L1430.0,461.0 L1432.0,461.0 L1434.0,461.0 L1436.0,461.0 L1438.0,461.0 L1440.0,461.0 L1442.0,461.0 L1444.0,461.0 L1446.0,461.0 L1448.0,461.0 L1450.0,461.0 L1452.0,461.0 L1454.0,461.0 L1456.0,461.0 L1458.0,461.0 L1460.0,461.0 L1462.0,461.0 L1464.0,461.0 L1466.0,461.0 L1468.0,461.0 L1470.0,461.0 L1472.0,461.0 L1474.0,461.0 L1476.0,461.0 L1478.0,461.0 L1480.0,461.0 L1482.0,461.0 L1484.0,461.0 L1486.0,461.0 L1488.0,461.0 L1490.0,461.0 L1492.0,461.0 L1494.0,461.0 L1496.0,461.0 L1498.0,461.0 L1500.0,461.0 L1502.0,461.0 L1504.0,461.0 L1506.0,461.0 L1508.0,461.0 L1510.0,461.0 L1512.0,461.0 L1514.0,461.0 L1516.0,461.0 L1518.0,461.0 L1520.0,461.0 L1522.0,461.0 L1524.0,461.0 L1526.0,461.0 L1528.0,461.0 L1530.0,461.0 L1532.0,461.0 L1534.0,461.0 L1536.0,461.0 L1538.0,461.0 L1540.0,461.0 L1542.0,461.0 L1544.0,461.0 L1546.0,461.0 L1548.0,461.0 L1550.0,461.0 L1552.0,461.0 L1554.0,461.0 L1556.0,461.0 L1558.0,461.0 L1560.0,461.0 L1562.0,461.0 L1564.0,461.0 L1566.0,461.0 L1568.0,461.0 L1570.0,461.0 L1572.0,461.0 L1574.0,461.0 L1576.0,461.0 L1578.0,461.0 L1580.0,461.0 L1582.0,461.0 L1584.0,461.0 L1586.0,461.0 L1588.0,461.0 L1590.0,461.0 L1592.0,461.0 L1594.0,461.0 L1596.0,461.0 L1598.0,461.0 L1600.0,461.0 L1602.0,461.0 L1604.0,461.0 L1606.0,461.0 L1608.0,461.0 L1610.0,461.0 L1612.0,461.0 L1614.0,461.0 L1616.0,461.0 L1618.0,461.0 L1620.0,461.0 L1622.0,461.0 L1624.0,461.0 L1626.0,461.0 L1628.0,461.0 L1630.0,461.0 L1632.0,461.0 L1634.0,461.0 L1636.0,461.0 L1638.0,461.0 L1640.0,461.0 L1642.0,461.0 L1644.0,461.0 L1646.0,461.0"/>
<use href="#cG1" x="1.0"/>
<path id="cG2" transform="translate(-0.5,0)" stroke="#008000" d="M110.0,457.0 L112.0,456.9 L114.0,456.8 L116.0,456.7 L118.0,456.6 L120.0,456.5 L122.0,456.5 L124.0,456.4 L126.0,456.3 L128.0,456.2 L130.0,456.1 L132.0,456.0 L134.0,455.9 L136.0,455.8 L138.0,455.7 L140.0,455.6 L142.0,455.5 L144.0,455.4 L146.0,455.2 L148.0,455.1 L150.0,455.0 L152.0,454.9 L154.0,454.8 L156.0,454.7 L158.0,454.5 L160.0,454.4 L162.0,454.3 L164.0,454.2 L166.0,454.0 L168.0,453.9 L170.0,453.8 L172.0,453.6 L174.0,453.5 L176.0,453.4 L178.0,453.2 L180.0,453.1 L182.0,452.9 L184.0,452.8 L186.0,452.6 L188.0,452.5 L190.0,452.3 L192.0,452.2 L194.0,452.0 L196.0,451.8 L198.0,451.7 L200.0,451.5 L202.0,451.3 L204.0,451.1 L206.0,451.0 L208.0,450.8 L210.0,450.6 L212.0,450.4 L214.0,450.2 L216.0,450.1 L218.0,449.9 L220.0,449.7 L222.0,449.5 L224.0,449.3 L226.0,449.1 L228.0,448.9 L230.0,448.6 L232.0,448.4 L234.0,448.2 L236.0,448.0 L238.0,447.8 L240.0,447.6 L242.0,447.3 L244.0,447.1 L246.0,446.9 L248.0,446.6 L250.0,446.4 L252.0,446.2 L254.0,445.9 L256.0,445.7 L258.0,445.4 L260.0,445.2 L262.0,444.9 L264.0,444.6 L266.0,444.4 L268.0,444.1 L270.0,443.8 L272.0,443.6 L274.0,443.3 L276.0,443.0 L278.0,442.7 L280.0,442.4 L282.0,442.1 L284.0,441.8 L286.0,441.5 L288.0,441.2 L290.0,440.9 L292.0,440.6 L294.0,440.3 L296.0,440.0 L298.0,439.7 L300.0,439.3 L302.0,439.0 L304.0,438.7 L306.0,438.3 L308.0,438.0 L310.0,437.6 L312.0,437.3 L314.0,436.9 L316.0,436.6 L318.0,436.2 L320.0,435.9 L322.0,435.5 L324.0,435.1 L326.0,434.7 L328.0,434.4 L330.0,434.0 L332.0,433.6 L334.0,433.2 L336.0,432.8 L338.0,432.4 L340.0,432.0 L342.0,431.6 L344.0,431.2 L346.0,430.8 L348.0,430.3 L350.0,429.9 L352.0,429.5 L354.0,429.1 L356.0,428.6 L358.0,428.2 L360.0,427.7 L362.0,427.3 L364.0,426.8 L366.0,426.4 L368.0,425.9 L370.0,425.4 L372.0,425.0 L374.0,424.5 L376.0,424.0 L378.0,423.5 L380.0,423.0 L382.0,422.5 L384.0,422.0 L386.0,421.5 L388.0,421.0 L390.0,420.5 L392.0,420.0 L394.0,419.5 L396.0,419.0 L398.0,418.5 L400.0,417.9 L402.0,417.4 L404.0,416.9 L406.0,416.3 L408.0,415.8 L410.0,415.2 L412.0,414.7 L414.0,414.1 L416.0,413.5 L418.0,413.0 L420.0,412.4 L422.0,411.8 L424.0,411.2 L426.0,410.6 L428.0,410.1 L430.0,409.5 L432.0,408.9 L434.0,408.3 L436.0,407.7 L438.0,407.1 L440.0,406.4 L442.0,405.8 L444.0,405.2 L446.0,404.6 L448.0,404.0 L450.0,403.3 L452.0,402.7 L454.0,402.0 L456.0,401.4 L458.0,400.8 L460.0,400.1 L462.0,399.4 L464.0,398.8 L466.0,398.1 L468.0,397.5 L470.0,396.8 L472.0,396.1 L474.0,395.4 L476.0,394.8 L478.0,394.1 L480.0,393.4 L482.0,392.7 L484.0,392.0 L486.0,391.3 L488.0,390.6 L490.0,389.9 L492.0,389.2 L494.0,388.5 L496.0,387.8 L498.0,387.1 L500.0,386.4 L502.0,385.6 L504.0,384.9 L506.0,384.2 L508.0,383.5 L510.0,382.7 L512.0,382.0 L514.0,381.3 L516.0,380.5 L518.0,379.8 L520.0,379.1 L522.0,378.3 L524.0,377.6 L526.0,376.8 L528.0,376.1 L530.0,375.3 L532.0,374.6 L534.0,373.8 L536.0,373.0 L538.0,372.3 L540.0,371.5 L542.0,370.8 L544.0,370.0 L546.0,369.2 L548.0,368.5 L550.0,367.7 L552.0,366.9 L554.0,366.1 L556.0,365.4 L558.0,364.6 L560.0,363.8 L562.0,363.0 L564.0,362.3 L566.0,361.5 L568.0,360.7 L570.0,359.9 L572.0,359.2 L574.0,358.4 L576.0,357.6 L578.0,356.8 L580.0,356.0 L582.0,355.3 L584.0,354.5 L586.0,353.7 L588.0,352.9 L590.0,352.1 L592.0,351.4 L594.0,350.6 L596.0,349.8 L598.0,349.0 L600.0,348.3 L602.0,347.5 L604.0,346.7 L606.0,345.9 L608.0,345.2 L610.0,344.4 L612.0,343.6 L614.0,342.9 L616.0,342.1 L618.0,341.3 L620.0,340.6 L622.0,339.8 L624.0,339.0 L626.0,338.3 L628.0,337.5 L630.0,336.8 L632.0,336.0 L634.0,335.3 L636.0,334.5 L638.0,333.8 L640.0,333.0 L642.0,332.3 L644.0,331.6 L646.0,330.8 L648.0,330.1 L650.0,329.4 L652.0,328.7 L654.0,327.9 L656.0,327.2 L658.0,326.5 L660.0,325.8 L662.0,325.1 L664.0,324.4 L666.0,323.7 L668.0,323.0 L670.0,322.3 L672.0,321.6 L674.0,320.9 L676.0,320.3 L678.0,319.6 L680.0,318.9 L682.0,318.3 L684.0,317.6 L686.0,317.0 L688.0,316.3 L690.0,315.7 L692.0,315.0 L694.0,314.4 L696.0,313.8 L698.0,313.1 L700.0,312.5 L702.0,311.9 L704.0,311.3 L706.0,310.7 L708.0,310.1 L710.0,309.5 L712.0,308.9 L714.0,308.4 L716.0,307.8 L718.0,307.2 L720.0,306.7 L722.0,306.1 L724.0,305.6 L726.0,305.1 L728.0,304.5 L730.0,304.0 L732.0,303.5 L734.0,303.0 L736.0,302.5 L738.0,302.0 L740.0,301.5 L742.0,301.0 L744.0,300.5 L746.0,300.1 L748.0,299.6 L750.0,299.2 L752.0,298.7 L754.0,298.3 L756.0,297.9 L758.0,297.4 L760.0,297.0 L762.0,296.6 L764.0,296.2 L766.0,295.8 L768.0,295.5 L770.0,295.1 L772.0,294.7 L774.0,294.4 L776.0,294.0 L778.0,293.7 L780.0,293.3 L782.0,293.0 L784.0,292.7 L786.0,292.4 L788.0,292.1 L790.0,291.8 L792.0,291.6 L794.0,291.3 L796.0,291.0 L798.0,290.8 L800.0,290.5 L802.0,290.3 L804.0,290.1 L806.0,289.9 L808.0,289.7 L810.0,289.5 L812.0,289.3 L814.0,289.1 L816.0,288.9 L818.0,288.8 L820.0,288.6 L822.0,288.5 L824.0,288.3 L826.0,288.2 L828.0,288.1 L830.0,288.0 L832.0,287.9 L834.0,287.8 L836.0,287.8 L838.0,287.7 L840.0,287.6 L842.0,287.6 L844.0,287.6 L846.0,287.5 L848.0,287.5 L850.0,287.5 L852.0,287.5 L854.0,287.5 L856.0,287.5 L858.0,287.6 L860.0,287.6 L862.0,287.7 L864.0,287.7 L866.0,287.8 L868.0,287.9 L870.0,287.9 L872.0,288.0 L874.0,288.1 L876.0,288.3 L878.0,288.4 L880.0,288.5 L882.0,288.7 L884.0,288.8 L886.0,289.0 L888.0,289.1 L890.0,289.3 L892.0,289.5 L894.0,289.7 L896.0,289.9 L898.0,290.1 L900.0,290.4 L902.0,290.6 L904.0,290.8 L906.0,291.1 L908.0,291.4 L910.0,291.6 L912.0,291.9 L914.0,292.2 L916.0,292.5 L918.0,292.8 L920.0,293.1 L922.0,293.4 L924.0,293.8 L926.0,294.1 L928.0,294.5 L930.0,294.8 L932.0,295.2 L934.0,295.6 L936.0,295.9 L938.0,296.3 L940.0,296.7 L942.0,297.1 L944.0,297.6 L946.0,298.0 L948.0,298.4 L950.0,298.8 L952.0,299.3 L954.0,299.7 L956.0,300.2 L958.0,300.7 L960.0,301.1 L962.0,301.6 L964.0,302.1 L966.0,302.6 L968.0,303.1 L970.0,303.6 L972.0,304.2 L974.0,304.7 L976.0,305.2 L978.0,305.8 L980.0,306.3 L982.0,306.8 L984.0,307.4 L986.0,308.0 L988.0,308.5 L990.0,309.1 L992.0,309.7 L994.0,310.3 L996.0,310.9 L998.0,311.5 L1000.0,312.1 L1002.0,312.7 L1004.0,313.3 L1006.0,314.0 L1008.0,314.6 L1010.0,315.2 L1012.0,315.9 L1014.0,316.5 L1016.0,317.2 L1018.0,317.8 L1020.0,318.5 L1022.0,319.1 L1024.0,319.8 L1026.0,320.5 L1028.0,321.1 L1030.0,321.8 L1032.0,322.5 L1034.0,323.2 L1036.0,323.9 L1038.0,324.6 L1040.0,325.3 L1042.0,326.0 L1044.0,326.7 L1046.0,327.4 L1048.0,328.2 L1050.0,328.9 L1052.0,329.6 L1054.0,330.3 L1056.0,331.1 L1058.0,331.8 L1060.0,332.5 L1062.0,333.3 L1064.0,334.0 L1066.0,334.8 L1068.0,335.5 L1070.0,336.2 L1072.0,337.0 L1074.0,337.8 L1076.0,338.5 L1078.0,339.3 L1080.0,340.0 L1082.0,340.8 L1084.0,341.6 L1086.0,342.3 L1088.0,343.1 L1090.0,343.9 L1092.0,344.6 L1094.0,345.4 L1096.0,346.2 L1098.0,346.9 L1100.0,347.7 L1102.0,348.5 L1104.0,349.3 L1106.0,350.0 L1108.0,350.8 L1110.0,351.6 L1112.0,352.4 L1114.0,353.2 L1116.0,353.9 L1118.0,354.7 L1120.0,355.5 L1122.0,356.3 L1124.0,357.1 L1126.0,357.8 L1128.0,358.6 L1130.0,359.4 L1132.0,360.2 L1134.0,360.9 L1136.0,361.7 L1138.0,362.5 L1140.0,363.3 L1142.0,364.1 L1144.0,364.8 L1146.0,365.6 L1148.0,366.4 L1150.0,367.1 L1152.0,367.9 L1154.0,368.7 L1156.0,369.4 L1158.0,370.2 L1160.0,371.0 L1162.0,371.7 L1164.0,372.5 L1166.0,373.3 L1168.0,374.0 L1170.0,374.8 L1172.0,375.5 L1174.0,376.3 L1176.0,377.0 L1178.0,377.8 L1180.0,378.5 L1182.0,379.3 L1184.0,380.0 L1186.0,380.8 L1188.0,381.5 L1190.0,382.2 L1192.0,383.0 L1194.0,383.7 L1196.0,384.4 L1198.0,385.1 L1200.0,385.9 L1202.0,386.6 L1204.0,387.3 L1206.0,388.0 L1208.0,388.7 L1210.0,389.4 L1212.0,390.1 L1214.0,390.8 L1216.0,391.5 L1218.0,392.2 L1220.0,392.9 L1222.0,393.6 L1224.0,394.3 L1226.0,395.0 L1228.0,395.6 L1230.0,396.3 L1232.0,397.0 L1234.0,397.7 L1236.0,398.3 L1238.0,399.0 L1240.0,399.6 L1242.0,400.3 L1244.0,400.9 L1246.0,401.6 L1248.0,402.2 L1250.0,402.9 L1252.0,403.5 L1254.0,404.1 L1256.0,404.8 L1258.0,405.4 L1260.0,406.0 L1262.0,406.6 L1264.0,407.2 L1266.0,407.8 L1268.0,408.4 L1270.0,409.0 L1272.0,409.6 L1274.0,410.2 L1276.0,410.8 L1278.0,411.4 L1280.0,412.0 L1282.0,412.6 L1284.0,413.1 L1286.0,413.7 L1288.0,414.3 L1290.0,414.8 L1292.0,415.4 L1294.0,415.9 L1296.0,416.5 L1298.0,417.0 L1300.0,417.6 L1302.0,418.1 L1304.0,418.6 L1306.0,419.1 L1308.0,419.7 L1310.0,420.2 L1312.0,420.7 L1314.0,421.2 L1316.0,421.7 L1318.0,422.2 L1320.0,422.7 L1322.0,423.2 L1324.0,423.7 L1326.0,424.2 L1328.0,424.6 L1330.0,425.1 L1332.0,425.6 L1334.0,426.0 L1336.0,426.5 L1338.0,427.0 L1340.0,427.4 L1342.0,427.9 L1344.0,428.3 L1346.0,428.7 L1348.0,429.2 L1350.0,429.6 L1352.0,430.0 L1354.0,430.5 L1356.0,430.9 L1358.0,431.3 L1360.0,431.7 L1362.0,432.1 L1364.0,432.5 L1366.0,432.9 L1368.0,433.3 L1370.0,433.7 L1372.0,434.1 L1374.0,434.5 L1376.0,434.9 L1378.0,435.2 L1380.0,435.6 L1382.0,436.0 L1384.0,436.3 L1386.0,436.7 L1388.0,437.0 L1390.0,437.4 L1392.0,437.7 L1394.0,438.1 L1396.0,438.4 L1398.0,438.8 L1400.0,439.1 L1402.0,439.4 L1404.0,439.7 L1406.0,440.1 L1408.0,440.4 L1410.0,440.7 L1412.0,441.0 L1414.0,441.3 L1416.0,441.6 L1418.0,441.9 L1420.0,442.2 L1422.0,442.5 L1424.0,442.8 L1426.0,443.1 L1428.0,443.4 L1430.0,443.6 L1432.0,443.9 L1434.0,444.2 L1436.0,444.4 L1438.0,444.7 L1440.0,445.0 L1442.0,445.2 L1444.0,445.5 L1446.0,445.7 L1448.0,446.0 L1450.0,446.2 L1452.0,446.5 L1454.0,446.7 L1456.0,446.9 L1458.0,447.2 L1460.0,447.4 L1462.0,447.6 L1464.0,447.9 L1466.0,448.1 L1468.0,448.3 L1470.0,448.5 L1472.0,448.7 L1474.0,448.9 L1476.0,449.1 L1478.0,449.3 L1480.0,449.5 L1482.0,449.7 L1484.0,449.9 L1486.0,450.1 L1488.0,450.3 L1490.0,450.5 L1492.0,450.7 L1494.0,450.8 L1496.0,451.0 L1498.0,451.2 L1500.0,451.4 L1502.0,451.5 L1504.0,451.7 L1506.0,451.9 L1508.0,452.0 L1510.0,452.2 L1512.0,452.4 L1514.0,452.5 L1516.0,452.7 L1518.0,452.8 L1520.0,453.0 L1522.0,453.1 L1524.0,453.3 L1526.0,453.4 L1528.0,453.5 L1530.0,453.7 L1532.0,453.8 L1534.0,453.9 L1536.0,454.1 L1538.0,454.2 L1540.0,454.3 L1542.0,454.5 L1544.0,454.6 L1546.0,454.7 L1548.0,454.8 L1550.0,454.9 L1552.0,455.1 L1554.0,455.2 L1556.0,455.3 L1558.0,455.4 L1560.0,455.5 L1562.0,455.6 L1564.0,455.7 L1566.0,455.8 L1568.0,455.9 L1570.0,456.0 L1572.0,456.1 L1574.0,456.2 L1576.0,456.3 L1578.0,456.4 L1580.0,456.5 L1582.0,456.6 L1584.0,456.7 L1586.0,456.7 L1588.0,456.8 L1590.0,456.9 L1592.0,457.0 L1594.0,457.1 L1596.0,457.2 L1598.0,457.2 L1600.0,457.3 L1602.0,457.4 L1604.0,457.5 L1606.0,457.5 L1608.0,457.6 L1610.0,457.7 L1612.0,457.7 L1614.0,457.8 L1616.0,457.9 L1618.0,457.9 L1620.0,458.0 L1622.0,458.1 L1624.0,458.1 L1626.0,458.2 L1628.0,458.2 L1630.0,458.3 L1632.0,458.4 L1634.0,458.4 L1636.0,458.5 L1638.0,458.5 L1640.0,458.6 L1642.0,458.6 L1644.0,458.7 L1646.0,458.7"/>
<use href="#cG2" x="1.0"/>
<path id="cB" transform="translate(-0.5,0)" stroke="#0000ff" d="M110.0,444.7 L112.0,444.1 L114.0,443.5 L116.0,442.9 L118.0,442.2 L120.0,441.6 L122.0,440.9 L124.0,440.2 L126.0,439.5 L128.0,438.7 L130.0,437.9 L132.0,437.1 L134.0,436.3 L136.0,435.5 L138.0,434.6 L140.0,433.7 L142.0,432.8 L144.0,431.9 L146.0,430.9 L148.0,429.9 L150.0,428.9 L152.0,427.8 L154.0,426.7 L156.0,425.6 L158.0,424.5 L160.0,423.3 L162.0,422.1 L164.0,420.9 L166.0,419.6 L168.0,418.3 L170.0,417.0 L172.0,415.6 L174.0,414.2 L176.0,412.8 L178.0,411.4 L180.0,409.9 L182.0,408.3 L184.0,406.8 L186.0,405.2 L188.0,403.5 L190.0,401.9 L192.0,400.2 L194.0,398.4 L196.0,396.6 L198.0,394.8 L200.0,392.9 L202.0,391.0 L204.0,389.1 L206.0,387.1 L208.0,385.1 L210.0,383.1 L212.0,381.0 L214.0,378.9 L216.0,376.7 L218.0,374.5 L220.0,372.2 L222.0,370.0 L224.0,367.6 L226.0,365.3 L228.0,362.9 L230.0,360.4 L232.0,357.9 L234.0,355.4 L236.0,352.9 L238.0,350.3 L240.0,347.7 L242.0,345.0 L244.0,342.3 L246.0,339.5 L248.0,336.8 L250.0,333.9 L252.0,331.1 L254.0,328.2 L256.0,325.3 L258.0,322.3 L260.0,319.4 L262.0,316.4 L264.0,313.3 L266.0,310.2 L268.0,307.1 L270.0,304.0 L272.0,300.8 L274.0,297.6 L276.0,294.4 L278.0,291.2 L280.0,287.9 L282.0,284.6 L284.0,281.3 L286.0,278.0 L288.0,274.6 L290.0,271.2 L292.0,267.8 L294.0,264.4 L296.0,261.0 L298.0,257.6 L300.0,254.1 L302.0,250.6 L304.0,247.2 L306.0,243.7 L308.0,240.2 L310.0,236.7 L312.0,233.2 L314.0,229.7 L316.0,226.2 L318.0,222.7 L320.0,219.2 L322.0,215.8 L324.0,212.3 L326.0,208.8 L328.0,205.3 L330.0,201.9 L332.0,198.4 L334.0,195.0 L336.0,191.6 L338.0,188.2 L340.0,184.8 L342.0,181.4 L344.0,178.1 L346.0,174.8 L348.0,171.5 L350.0,168.3 L352.0,165.0 L354.0,161.9 L356.0,158.7 L358.0,155.6 L360.0,152.5 L362.0,149.4 L364.0,146.4 L366.0,143.5 L368.0,140.5 L370.0,137.7 L372.0,134.8 L374.0,132.0 L376.0,129.3 L378.0,126.6 L380.0,124.0 L382.0,121.4 L384.0,118.9 L386.0,116.4 L388.0,114.0 L390.0,111.7 L392.0,109.4 L394.0,107.2 L396.0,105.0 L398.0,102.9 L400.0,100.9 L402.0,99.0 L404.0,97.1 L406.0,95.2 L408.0,93.5 L410.0,91.8 L412.0,90.2 L414.0,88.7 L416.0,87.2 L418.0,85.8 L420.0,84.5 L422.0,83.2 L424.0,82.1 L426.0,81.0 L428.0,80.0 L430.0,79.0 L432.0,78.2 L434.0,77.4 L436.0,76.7 L438.0,76.1 L440.0,75.5 L442.0,75.0 L444.0,74.6 L446.0,74.3 L448.0,74.1 L450.0,73.9 L452.0,73.8 L454.0,73.8 L456.0,73.9 L458.0,74.0 L460.0,74.2 L462.0,74.5 L464.0,74.8 L466.0,75.3 L468.0,75.8 L470.0,76.4 L472.0,77.0 L474.0,77.7 L476.0,78.5 L478.0,79.3 L480.0,80.3 L482.0,81.2 L484.0,82.3 L486.0,83.4 L488.0,84.6 L490.0,85.8 L492.0,87.1 L494.0,88.4 L496.0,89.8 L498.0,91.3 L500.0,92.8 L502.0,94.3 L504.0,96.0 L506.0,97.6 L508.0,99.3 L510.0,101.1 L512.0,102.9 L514.0,104.7 L516.0,106.6 L518.0,108.5 L520.0,110.5 L522.0,112.5 L524.0,114.5 L526.0,116.6 L528.0,118.7 L530.0,120.8 L532.0,122.9 L534.0,125.1 L536.0,127.3 L538.0,129.5 L540.0,131.8 L542.0,134.1 L544.0,136.3 L546.0,138.6 L548.0,141.0 L550.0,143.3 L552.0,145.6 L554.0,148.0 L556.0,150.3 L558.0,152.7 L560.0,155.0 L562.0,157.4 L564.0,159.8 L566.0,162.1 L568.0,164.5 L570.0,166.9 L572.0,169.2 L574.0,171.6 L576.0,173.9 L578.0,176.3 L580.0,178.6 L582.0,180.9 L584.0,183.2 L586.0,185.5 L588.0,187.8 L590.0,190.1 L592.0,192.3 L594.0,194.6 L596.0,196.8 L598.0,199.0 L600.0,201.1 L602.0,203.3 L604.0,205.4 L606.0,207.5 L608.0,209.6 L610.0,211.7 L612.0,213.7 L614.0,215.7 L616.0,217.7 L618.0,219.6 L620.0,221.5 L622.0,223.4 L624.0,225.3 L626.0,227.1 L628.0,228.9 L630.0,230.7 L632.0,232.4 L634.0,234.1 L636.0,235.8 L638.0,237.5 L640.0,239.1 L642.0,240.7 L644.0,242.2 L646.0,243.7 L648.0,245.2 L650.0,246.7 L652.0,248.1 L654.0,249.5 L656.0,250.8 L658.0,252.1 L660.0,253.4 L662.0,254.7 L664.0,255.9 L666.0,257.1 L668.0,258.3 L670.0,259.4 L672.0,260.5 L674.0,261.5 L676.0,262.6 L678.0,263.6 L680.0,264.5 L682.0,265.5 L684.0,266.4 L686.0,267.3 L688.0,268.1 L690.0,268.9 L692.0,269.7 L694.0,270.5 L696.0,271.2 L698.0,272.0 L700.0,272.6 L702.0,273.3 L704.0,273.9 L706.0,274.5 L708.0,275.1 L710.0,275.7 L712.0,276.2 L714.0,276.7 L716.0,277.2 L718.0,277.7 L720.0,278.1 L722.0,278.6 L724.0,279.0 L726.0,279.4 L728.0,279.7 L730.0,280.1 L732.0,280.4 L734.0,280.7 L736.0,281.0 L738.0,281.3 L740.0,281.6 L742.0,281.8 L744.0,282.0 L746.0,282.3 L748.0,282.5 L750.0,282.7 L752.0,282.8 L754.0,283.0 L756.0,283.2 L758.0,283.3 L760.0,283.4 L762.0,283.6 L764.0,283.7 L766.0,283.8 L768.0,283.9 L770.0,284.0 L772.0,284.1 L774.0,284.1 L776.0,284.2 L778.0,284.3 L780.0,284.3 L782.0,284.4 L784.0,284.4 L786.0,284.5 L788.0,284.5 L790.0,284.5 L792.0,284.6 L794.0,284.6 L796.0,284.6 L798.0,284.7 L800.0,284.7 L802.0,284.7 L804.0,284.7 L806.0,284.7 L808.0,284.8 L810.0,284.8 L812.0,284.8 L814.0,284.8 L816.0,284.9 L818.0,284.9 L820.0,284.9 L822.0,284.9 L824.0,285.0 L826.0,285.0 L828.0,285.0 L830.0,285.1 L832.0,285.1 L834.0,285.2 L836.0,285.2 L838.0,285.3 L840.0,285.3 L842.0,285.4 L844.0,285.5 L846.0,285.6 L848.0,285.6 L850.0,285.7 L852.0,285.8 L854.0,285.9 L856.0,286.0 L858.0,286.1 L860.0,286.2 L862.0,286.3 L864.0,286.5 L866.0,286.6 L868.0,286.7 L870.0,286.9 L872.0,287.0 L874.0,287.2 L876.0,287.4 L878.0,287.5 L880.0,287.7 L882.0,287.9 L884.0,288.1 L886.0,288.3 L888.0,288.5 L890.0,288.7 L892.0,288.9 L894.0,289.2 L896.0,289.4 L898.0,289.7 L900.0,289.9 L902.0,290.2 L904.0,290.4 L906.0,290.7 L908.0,291.0 L910.0,291.3 L912.0,291.6 L914.0,291.9 L916.0,292.2 L918.0,292.5 L920.0,292.9 L922.0,293.2 L924.0,293.5 L926.0,293.9 L928.0,294.3 L930.0,294.6 L932.0,295.0 L934.0,295.4 L936.0,295.8 L938.0,296.2 L940.0,296.6 L942.0,297.0 L944.0,297.4 L946.0,297.9 L948.0,298.3 L950.0,298.7 L952.0,299.2 L954.0,299.7 L956.0,300.1 L958.0,300.6 L960.0,301.1 L962.0,301.6 L964.0,302.1 L966.0,302.6 L968.0,303.1 L970.0,303.6 L972.0,304.1 L974.0,304.6 L976.0,305.2 L978.0,305.7 L980.0,306.3 L982.0,306.8 L984.0,307.4 L986.0,307.9 L988.0,308.5 L990.0,309.1 L992.0,309.7 L994.0,310.3 L996.0,310.9 L998.0,311.5 L1000.0,312.1 L1002.0,312.7 L1004.0,313.3 L1006.0,313.9 L1008.0,314.6 L1010.0,315.2 L1012.0,315.8 L1014.0,316.5 L1016.0,317.1 L1018.0,317.8 L1020.0,318.5 L1022.0,319.1 L1024.0,319.8 L1026.0,320.5 L1028.0,321.1 L1030.0,321.8 L1032.0,322.5 L1034.0,323.2 L1036.0,323.9 L1038.0,324.6 L1040.0,325.3 L1042.0,326.0 L1044.0,326.7 L1046.0,327.4 L1048.0,328.2 L1050.0,328.9 L1052.0,329.6 L1054.0,330.3 L1056.0,331.1 L1058.0,331.8 L1060.0,332.5 L1062.0,333.3 L1064.0,334.0 L1066.0,334.8 L1068.0,335.5 L1070.0,336.2 L1072.0,337.0 L1074.0,337.8 L1076.0,338.5 L1078.0,339.3 L1080.0,340.0 L1082.0,340.8 L1084.0,341.6 L1086.0,342.3 L1088.0,343.1 L1090.0,343.9 L1092.0,344.6 L1094.0,345.4 L1096.0,346.2 L1098.0,346.9 L1100.0,347.7 L1102.0,348.5 L1104.0,349.3 L1106.0,350.0 L1108.0,350.8 L1110.0,351.6 L1112.0,352.4 L1114.0,353.2 L1116.0,353.9 L1118.0,354.7 L1120.0,355.5 L1122.0,356.3 L1124.0,357.1 L1126.0,357.8 L1128.0,358.6 L1130.0,359.4 L1132.0,360.2 L1134.0,360.9 L1136.0,361.7 L1138.0,362.5 L1140.0,363.3 L1142.0,364.1 L1144.0,364.8 L1146.0,365.6 L1148.0,366.4 L1150.0,367.1 L1152.0,367.9 L1154.0,368.7 L1156.0,369.4 L1158.0,370.2 L1160.0,371.0 L1162.0,371.7 L1164.0,372.5 L1166.0,373.3 L1168.0,374.0 L1170.0,374.8 L1172.0,375.5 L1174.0,376.3 L1176.0,377.0 L1178.0,377.8 L1180.0,378.5 L1182.0,379.3 L1184.0,380.0 L1186.0,380.8 L1188.0,381.5 L1190.0,382.2 L1192.0,383.0 L1194.0,383.7 L1196.0,384.4 L1198.0,385.1 L1200.0,385.9 L1202.0,386.6 L1204.0,387.3 L1206.0,388.0 L1208.0,388.7 L1210.0,389.4 L1212.0,390.1 L1214.0,390.8 L1216.0,391.5 L1218.0,392.2 L1220.0,392.9 L1222.0,393.6 L1224.0,394.3 L1226.0,395.0 L1228.0,395.6 L1230.0,396.3 L1232.0,397.0 L1234.0,397.7 L1236.0,398.3 L1238.0,399.0 L1240.0,399.6 L1242.0,400.3 L1244.0,400.9 L1246.0,401.6 L1248.0,402.2 L1250.0,402.9 L1252.0,403.5 L1254.0,404.1 L1256.0,404.8 L1258.0,405.4 L1260.0,406.0 L1262.0,406.6 L1264.0,407.2 L1266.0,407.8 L1268.0,408.4 L1270.0,409.0 L1272.0,409.6 L1274.0,410.2 L1276.0,410.8 L1278.0,411.4 L1280.0,412.0 L1282.0,412.6 L1284.0,413.1 L1286.0,413.7 L1288.0,414.3 L1290.0,414.8 L1292.0,415.4 L1294.0,415.9 L1296.0,416.5 L1298.0,417.0 L1300.0,417.6 L1302.0,418.1 L1304.0,418.6 L1306.0,419.1 L1308.0,419.7 L1310.0,420.2 L1312.0,420.7 L1314.0,421.2 L1316.0,421.7 L1318.0,422.2 L1320.0,422.7 L1322.0,423.2 L1324.0,423.7 L1326.0,424.2 L1328.0,424.6 L1330.0,425.1 L1332.0,425.6 L1334.0,426.0 L1336.0,426.5 L1338.0,427.0 L1340.0,427.4 L1342.0,427.9 L1344.0,428.3 L1346.0,428.7 L1348.0,429.2 L1350.0,429.6 L1352.0,430.0 L1354.0,430.5 L1356.0,430.9 L1358.0,431.3 L1360.0,431.7 L1362.0,432.1 L1364.0,432.5 L1366.0,432.9 L1368.0,433.3 L1370.0,433.7 L1372.0,434.1 L1374.0,434.5 L1376.0,434.9 L1378.0,435.2 L1380.0,435.6 L1382.0,436.0 L1384.0,436.3 L1386.0,436.7 L1388.0,437.0 L1390.0,437.4 L1392.0,437.7 L1394.0,438.1 L1396.0,438.4 L1398.0,438.8 L1400.0,439.1 L1402.0,439.4 L1404.0,439.7 L1406.0,440.1 L1408.0,440.4 L1410.0,440.7 L1412.0,441.0 L1414.0,441.3 L1416.0,441.6 L1418.0,441.9 L1420.0,442.2 L1422.0,442.5 L1424.0,442.8 L1426.0,443.1 L1428.0,443.4 L1430.0,443.6 L1432.0,443.9 L1434.0,444.2 L1436.0,444.4 L1438.0,444.7 L1440.0,445.0 L1442.0,445.2 L1444.0,445.5 L1446.0,445.7 L1448.0,446.0 L1450.0,446.2 L1452.0,446.5 L1454.0,446.7 L1456.0,446.9 L1458.0,447.2 L1460.0,447.4 L1462.0,447.6 L1464.0,447.9 L1466.0,448.1 L1468.0,448.3 L1470.0,448.5 L1472.0,448.7 L1474.0,448.9 L1476.0,449.1 L1478.0,449.3 L1480.0,449.5 L1482.0,449.7 L1484.0,449.9 L1486.0,450.1 L1488.0,450.3 L1490.0,450.5 L1492.0,450.7 L1494.0,450.8 L1496.0,451.0 L1498.0,451.2 L1500.0,451.4 L1502.0,451.5 L1504.0,451.7 L1506.0,451.9 L1508.0,452.0 L1510.0,452.2 L1512.0,452.4 L1514.0,452.5 L1516.0,452.7 L1518.0,452.8 L1520.0,453.0 L1522.0,453.1 L1524.0,453.3 L1526.0,453.4 L1528.0,453.5 L1530.0,453.7 L1532.0,453.8 L1534.0,453.9 L1536.0,454.1 L1538.0,454.2 L1540.0,454.3 L1542.0,454.5 L1544.0,454.6 L1546.0,454.7 L1548.0,454.8 L1550.0,454.9 L1552.0,455.1 L1554.0,455.2 L1556.0,455.3 L1558.0,455.4 L1560.0,455.5 L1562.0,455.6 L1564.0,455.7 L1566.0,455.8 L1568.0,455.9 L1570.0,456.0 L1572.0,456.1 L1574.0,456.2 L1576.0,456.3 L1578.0,456.4 L1580.0,456.5 L1582.0,456.6 L1584.0,456.7 L1586.0,456.7 L1588.0,456.8 L1590.0,456.9 L1592.0,457.0 L1594.0,457.1 L1596.0,457.2 L1598.0,457.2 L1600.0,457.3 L1602.0,457.4 L1604.0,457.5 L1606.0,457.5 L1608.0,457.6 L1610.0,457.7 L1612.0,457.7 L1614.0,457.8 L1616.0,457.9 L1618.0,457.9 L1620.0,458.0 L1622.0,458.1 L1624.0,458.1 L1626.0,458.2 L1628.0,458.2 L1630.0,458.3 L1632.0,458.4 L1634.0,458.4 L1636.0,458.5 L1638.0,458.5 L1640.0,458.6 L1642.0,458.6 L1644.0,458.7 L1646.0,458.7"/>
<use href="#cB" x="1.0"/>
<g clip-path="url(#cd)">
<path id="dG1" transform="translate(-0.5,0)" stroke="#008000" stroke-linecap="round" stroke-dasharray="8 15" stroke-dashoffset="11.56" d="M108.1,937.9 L110.1,937.3 L112.1,936.7 L114.1,936.1 L116.1,935.4 L118.1,934.7 L120.1,934.0 L122.1,933.3 L124.1,932.6 L126.1,931.9 L128.1,931.1 L130.1,930.3 L132.1,929.5 L134.1,928.7 L136.1,927.9 L138.1,927.0 L140.1,926.1 L142.1,925.2 L144.1,924.3 L146.1,923.4 L148.1,922.4 L150.1,921.4 L152.1,920.4 L154.1,919.4 L156.1,918.4 L158.1,917.3 L160.1,916.2 L162.1,915.1 L164.1,913.9 L166.1,912.8 L168.1,911.6 L170.1,910.3 L172.1,909.1 L174.1,907.8 L176.1,906.5 L178.1,905.2 L180.1,903.9 L182.1,902.5 L184.1,901.1 L186.1,899.7 L188.1,898.3 L190.1,896.8 L192.1,895.3 L194.1,893.7 L196.1,892.2 L198.1,890.6 L200.1,889.0 L202.1,887.3 L204.1,885.7 L206.1,884.0 L208.1,882.3 L210.1,880.5 L212.1,878.7 L214.1,876.9 L216.1,875.1 L218.1,873.2 L220.1,871.3 L222.1,869.4 L224.1,867.4 L226.1,865.4 L228.1,863.4 L230.1,861.4 L232.1,859.3 L234.1,857.2 L236.1,855.1 L238.1,852.9 L240.1,850.8 L242.1,848.6 L244.1,846.3 L246.1,844.0 L248.1,841.7 L250.1,839.4 L252.1,837.1 L254.1,834.7 L256.1,832.3 L258.1,829.9 L260.1,827.4 L262.1,824.9 L264.1,822.4 L266.1,819.9 L268.1,817.3 L270.1,814.7 L272.1,812.1 L274.1,809.5 L276.1,806.8 L278.1,804.1 L280.1,801.4 L282.1,798.7 L284.1,796.0 L286.1,793.2 L288.1,790.4 L290.1,787.6 L292.1,784.8 L294.1,781.9 L296.1,779.1 L298.1,776.2 L300.1,773.3 L302.1,770.4 L304.1,767.4 L306.1,764.5 L308.1,761.5 L310.1,758.5 L312.1,755.5 L314.1,752.5 L316.1,749.5 L318.1,746.5 L320.1,743.5 L322.1,740.4 L324.1,737.4 L326.1,734.3 L328.1,731.3 L330.1,728.2 L332.1,725.1 L334.1,722.1 L336.1,719.0 L338.1,715.9 L340.1,712.8 L342.1,709.8 L344.1,706.7 L346.1,703.6 L348.1,700.5 L350.1,697.5 L352.1,694.4 L354.1,691.4 L356.1,688.3 L358.1,685.3 L360.1,682.3 L362.1,679.3 L364.1,676.3 L366.1,673.3 L368.1,670.3 L370.1,667.4 L372.1,664.4 L374.1,661.5 L376.1,658.6 L378.1,655.7 L380.1,652.9 L382.1,650.0 L384.1,647.2 L386.1,644.4 L388.1,641.6 L390.1,638.9 L392.1,636.2 L394.1,633.5 L396.1,630.9 L398.1,628.3 L400.1,625.7 L402.1,623.1 L404.1,620.6 L406.1,618.1 L408.1,615.7 L410.1,613.3 L412.1,610.9 L414.1,608.6 L416.1,606.3 L418.1,604.0 L420.1,601.8 L422.1,599.7 L424.1,597.6 L426.1,595.5 L428.1,593.5 L430.1,591.5 L432.1,589.6 L434.1,587.7 L436.1,585.9 L438.1,584.1 L440.1,582.4 L442.1,580.7 L444.1,579.1 L446.1,577.6 L448.1,576.1 L450.1,574.6 L452.1,573.2 L454.1,571.9 L456.1,570.6 L458.1,569.4 L460.1,568.3 L462.1,567.2 L464.1,566.1 L466.1,565.1 L468.1,564.2 L470.1,563.4 L472.1,562.6 L474.1,561.8 L476.1,561.2 L478.1,560.6 L480.1,560.0 L482.1,559.6 L484.1,559.1 L486.1,558.8 L488.1,558.5 L490.1,558.3 L492.1,558.1 L494.1,558.0 L496.1,558.0 L498.1,558.0 L500.1,558.1 L502.1,558.3 L504.1,558.5 L506.1,558.8 L508.1,559.2 L510.1,559.6 L512.1,560.1 L514.1,560.6 L516.1,561.2 L518.1,561.9 L520.1,562.7 L522.1,563.5 L524.1,564.3 L526.1,565.2 L528.1,566.2 L530.1,567.3 L532.1,568.4 L534.1,569.5 L536.1,570.8 L538.1,572.0 L540.1,573.4 L542.1,574.8 L544.1,576.2 L546.1,577.7 L548.1,579.3 L550.1,580.9 L552.1,582.6 L554.1,584.3 L556.1,586.1 L558.1,587.9 L560.1,589.8 L562.1,591.7 L564.1,593.7 L566.1,595.7 L568.1,597.8 L570.1,599.9 L572.1,602.1 L574.1,604.3 L576.1,606.5 L578.1,608.8 L580.1,611.1 L582.1,613.5 L584.1,615.9 L586.1,618.4 L588.1,620.9 L590.1,623.4 L592.1,625.9 L594.1,628.5 L596.1,631.1 L598.1,633.8 L600.1,636.5 L602.1,639.2 L604.1,641.9 L606.1,644.7 L608.1,647.5 L610.1,650.3 L612.1,653.1 L614.1,656.0 L616.1,658.9 L618.1,661.8 L620.1,664.7 L622.1,667.6 L624.1,670.6 L626.1,673.6 L628.1,676.6 L630.1,679.6 L632.1,682.6 L634.1,685.6 L636.1,688.6 L638.1,691.7 L640.1,694.7 L642.1,697.8 L644.1,700.9 L646.1,703.9 L648.1,707.0 L650.1,710.1 L652.1,713.1 L654.1,716.2 L656.1,719.3 L658.1,722.4 L660.1,725.4 L662.1,728.5 L664.1,731.6 L666.1,734.6 L668.1,737.7 L670.1,740.7 L672.1,743.8 L674.1,746.8 L676.1,749.8 L678.1,752.8 L680.1,755.8 L682.1,758.8 L684.1,761.8 L686.1,764.8 L688.1,767.7 L690.1,770.6 L692.1,773.6 L694.1,776.5 L696.1,779.3 L698.1,782.2 L700.1,785.1 L702.1,787.9 L704.1,790.7 L706.1,793.5 L708.1,796.2 L710.1,799.0 L712.1,801.7 L714.1,804.4 L716.1,807.1 L718.1,809.7 L720.1,812.4 L722.1,815.0 L724.1,817.6 L726.1,820.1 L728.1,822.7 L730.1,825.2 L732.1,827.6 L734.1,830.1 L736.1,832.5 L738.1,834.9 L740.1,837.3 L742.1,839.7 L744.1,842.0 L746.1,844.3 L748.1,846.5 L750.1,848.8 L752.1,851.0 L754.1,853.2 L756.1,855.3 L758.1,857.4 L760.1,859.5 L762.1,861.6 L764.1,863.6 L766.1,865.6 L768.1,867.6 L770.1,869.6 L772.1,871.5 L774.1,873.4 L776.1,875.3 L778.1,877.1 L780.1,878.9 L782.1,880.7 L784.1,882.4 L786.1,884.2 L788.1,885.8 L790.1,887.5 L792.1,889.2 L794.1,890.8 L796.1,892.3 L798.1,893.9 L800.1,895.4 L802.1,896.9 L804.1,898.4 L806.1,899.8 L808.1,901.3 L810.1,902.7 L812.1,904.0 L814.1,905.4 L816.1,906.7 L818.1,908.0 L820.1,909.2 L822.1,910.5 L824.1,911.7 L826.1,912.9 L828.1,914.0 L830.1,915.2 L832.1,916.3 L834.1,917.4 L836.1,918.5 L838.1,919.5 L840.1,920.5 L842.1,921.5 L844.1,922.5 L846.1,923.5 L848.1,924.4 L850.1,925.3 L852.1,926.2 L854.1,927.1 L856.1,928.0 L858.1,928.8 L860.1,929.6 L862.1,930.4 L864.1,931.2 L866.1,931.9 L868.1,932.7 L870.1,933.4 L872.1,934.1 L874.1,934.8 L876.1,935.5 L878.1,936.1 L880.1,936.8 L882.1,937.4 L884.1,938.0 L886.1,938.6 L888.1,939.1 L890.1,939.7 L892.1,940.2 L894.1,940.8 L896.1,941.3 L898.1,941.8 L900.1,942.3 L902.1,942.8 L904.1,943.2 L906.1,943.7 L908.1,944.1 L910.1,944.5 L912.1,944.9 L914.1,945.3 L916.1,945.7 L918.1,946.1 L920.1,946.5 L922.1,946.8 L924.1,947.2 L926.1,947.5 L928.1,947.8 L930.1,948.1 L932.1,948.5 L934.1,948.7 L936.1,949.0 L938.1,949.3 L940.1,949.6 L942.1,949.8 L944.1,950.1 L946.1,950.3 L948.1,950.6 L950.1,950.8 L952.1,951.0 L954.1,951.3 L956.1,951.5 L958.1,951.7 L960.1,951.9 L962.1,952.1 L964.1,952.2 L966.1,952.4 L968.1,952.6 L970.1,952.8 L972.1,952.9 L974.1,953.1 L976.1,953.2 L978.1,953.4 L980.1,953.5 L982.1,953.6 L984.1,953.8 L986.1,953.9 L988.1,954.0 L990.1,954.1 L992.1,954.2 L994.1,954.3 L996.1,954.5 L998.1,954.6 L1000.1,954.7 L1002.1,954.7 L1004.1,954.8 L1006.1,954.9 L1008.1,955.0 L1010.1,955.1 L1012.1,955.2 L1014.1,955.2 L1016.1,955.3 L1018.1,955.4 L1020.1,955.4 L1022.1,955.5 L1024.1,955.6 L1026.1,955.6 L1028.1,955.7 L1030.1,955.7 L1032.1,955.8 L1034.1,955.9 L1036.1,955.9 L1038.1,955.9 L1040.1,956.0 L1042.1,956.0 L1044.1,956.1 L1046.1,956.1 L1048.1,956.2 L1050.1,956.2 L1052.1,956.2 L1054.1,956.3 L1056.1,956.3 L1058.1,956.3 L1060.1,956.4 L1062.1,956.4 L1064.1,956.4 L1066.1,956.4 L1068.1,956.5 L1070.1,956.5 L1072.1,956.5 L1074.1,956.5 L1076.1,956.6 L1078.1,956.6 L1080.1,956.6 L1082.1,956.6 L1084.1,956.6 L1086.1,956.6 L1088.1,956.7 L1090.1,956.7 L1092.1,956.7 L1094.1,956.7 L1096.1,956.7 L1098.1,956.7 L1100.1,956.7 L1102.1,956.8 L1104.1,956.8 L1106.1,956.8 L1108.1,956.8 L1110.1,956.8 L1112.1,956.8 L1114.1,956.8 L1116.1,956.8 L1118.1,956.8 L1120.1,956.8 L1122.1,956.9 L1124.1,956.9 L1126.1,956.9 L1128.1,956.9 L1130.1,956.9 L1132.1,956.9 L1134.1,956.9 L1136.1,956.9 L1138.1,956.9 L1140.1,956.9 L1142.1,956.9 L1144.1,956.9 L1146.1,956.9 L1148.1,956.9 L1150.1,956.9 L1152.1,956.9 L1154.1,956.9 L1156.1,956.9 L1158.1,956.9 L1160.1,956.9 L1162.1,956.9 L1164.1,957.0 L1166.1,957.0 L1168.1,957.0 L1170.1,957.0 L1172.1,957.0 L1174.1,957.0 L1176.1,957.0 L1178.1,957.0 L1180.1,957.0 L1182.1,957.0 L1184.1,957.0 L1186.1,957.0 L1188.1,957.0 L1190.1,957.0 L1192.1,957.0 L1194.1,957.0 L1196.1,957.0 L1198.1,957.0 L1200.1,957.0 L1202.1,957.0 L1204.1,957.0 L1206.1,957.0 L1208.1,957.0 L1210.1,957.0 L1212.1,957.0 L1214.1,957.0 L1216.1,957.0 L1218.1,957.0 L1220.1,957.0 L1222.1,957.0 L1224.1,957.0 L1226.1,957.0 L1228.1,957.0 L1230.1,957.0 L1232.1,957.0 L1234.1,957.0 L1236.1,957.0 L1238.1,957.0 L1240.1,957.0 L1242.1,957.0 L1244.1,957.0 L1246.1,957.0 L1248.1,957.0 L1250.1,957.0 L1252.1,957.0 L1254.1,957.0 L1256.1,957.0 L1258.1,957.0 L1260.1,957.0 L1262.1,957.0 L1264.1,957.0 L1266.1,957.0 L1268.1,957.0 L1270.1,957.0 L1272.1,957.0 L1274.1,957.0 L1276.1,957.0 L1278.1,957.0 L1280.1,957.0 L1282.1,957.0 L1284.1,957.0 L1286.1,957.0 L1288.1,957.0 L1290.1,957.0 L1292.1,957.0 L1294.1,957.0 L1296.1,957.0 L1298.1,957.0 L1300.1,957.0 L1302.1,957.0 L1304.1,957.0 L1306.1,957.0 L1308.1,957.0 L1310.1,957.0 L1312.1,957.0 L1314.1,957.0 L1316.1,957.0 L1318.1,957.0 L1320.1,957.0 L1322.1,957.0 L1324.1,957.0 L1326.1,957.0 L1328.1,957.0 L1330.1,957.0 L1332.1,957.0 L1334.1,957.0 L1336.1,957.0 L1338.1,957.0 L1340.1,957.0 L1342.1,957.0 L1344.1,957.0 L1346.1,957.0 L1348.1,957.0 L1350.1,957.0 L1352.1,957.0 L1354.1,957.0 L1356.1,957.0 L1358.1,957.0 L1360.1,957.0 L1362.1,957.0 L1364.1,957.0 L1366.1,957.0 L1368.1,957.0 L1370.1,957.0 L1372.1,957.0 L1374.1,957.0 L1376.1,957.0 L1378.1,957.0 L1380.1,957.0 L1382.1,957.0 L1384.1,957.0 L1386.1,957.0 L1388.1,957.0 L1390.1,957.0 L1392.1,957.0 L1394.1,957.0 L1396.1,957.0 L1398.1,957.0 L1400.1,957.0 L1402.1,957.0 L1404.1,957.0 L1406.1,957.0 L1408.1,957.0 L1410.1,957.0 L1412.1,957.0 L1414.1,957.0 L1416.1,957.0 L1418.1,957.0 L1420.1,957.0 L1422.1,957.0 L1424.1,957.0 L1426.1,957.0 L1428.1,957.0 L1430.1,957.0 L1432.1,957.0 L1434.1,957.0 L1436.1,957.0 L1438.1,957.0 L1440.1,957.0 L1442.1,957.0 L1444.1,957.0 L1446.1,957.0 L1448.1,957.0 L1450.1,957.0 L1452.1,957.0 L1454.1,957.0 L1456.1,957.0 L1458.1,957.0 L1460.1,957.0 L1462.1,957.0 L1464.1,957.0 L1466.1,957.0 L1468.1,957.0 L1470.1,957.0 L1472.1,957.0 L1474.1,957.0 L1476.1,957.0 L1478.1,957.0 L1480.1,957.0 L1482.1,957.0 L1484.1,957.0 L1486.1,957.0 L1488.1,957.0 L1490.1,957.0 L1492.1,957.0 L1494.1,957.0 L1496.1,957.0 L1498.1,957.0 L1500.1,957.0 L1502.1,957.0 L1504.1,957.0 L1506.1,957.0 L1508.1,957.0 L1510.1,957.0 L1512.1,957.0 L1514.1,957.0 L1516.1,957.0 L1518.1,957.0 L1520.1,957.0 L1522.1,957.0 L1524.1,957.0 L1526.1,957.0 L1528.1,957.0 L1530.1,957.0 L1532.1,957.0 L1534.1,957.0 L1536.1,957.0 L1538.1,957.0 L1540.1,957.0 L1542.1,957.0 L1544.1,957.0 L1546.1,957.0 L1548.1,957.0 L1550.1,957.0 L1552.1,957.0 L1554.1,957.0 L1556.1,957.0 L1558.1,957.0 L1560.1,957.0 L1562.1,957.0 L1564.1,957.0 L1566.1,957.0 L1568.1,957.0 L1570.1,957.0 L1572.1,957.0 L1574.1,957.0 L1576.1,957.0 L1578.1,957.0 L1580.1,957.0 L1582.1,957.0 L1584.1,957.0 L1586.1,957.0 L1588.1,957.0 L1590.1,957.0 L1592.1,957.0 L1594.1,957.0 L1596.1,957.0 L1598.1,957.0 L1600.1,957.0 L1602.1,957.0 L1604.1,957.0 L1606.1,957.0 L1608.1,957.0 L1610.1,957.0 L1612.1,957.0 L1614.1,957.0 L1616.1,957.0 L1618.1,957.0 L1620.1,957.0 L1622.1,957.0 L1624.1,957.0 L1626.1,957.0 L1628.1,957.0 L1630.1,957.0 L1632.1,957.0 L1634.1,957.0 L1635.0,957.0"/>
<use href="#dG1" x="1.0"/>
<path id="dG2" transform="translate(-0.5,0)" stroke="#008000" stroke-linecap="round" stroke-dasharray="8 15" stroke-dashoffset="22.5" d="M108.1,957.0 L110.1,957.0 L112.1,957.0 L114.1,957.0 L116.1,957.0 L118.1,957.0 L120.1,957.0 L122.1,957.0 L124.1,957.0 L126.1,957.0 L128.1,957.0 L130.1,957.0 L132.1,957.0 L134.1,957.0 L136.1,957.0 L138.1,957.0 L140.1,957.0 L142.1,957.0 L144.1,957.0 L146.1,957.0 L148.1,957.0 L150.1,957.0 L152.1,957.0 L154.1,957.0 L156.1,957.0 L158.1,957.0 L160.1,957.0 L162.1,957.0 L164.1,957.0 L166.1,957.0 L168.1,957.0 L170.1,957.0 L172.1,957.0 L174.1,957.0 L176.1,957.0 L178.1,957.0 L180.1,957.0 L182.1,957.0 L184.1,957.0 L186.1,957.0 L188.1,957.0 L190.1,957.0 L192.1,957.0 L194.1,957.0 L196.1,957.0 L198.1,957.0 L200.1,957.0 L202.1,957.0 L204.1,957.0 L206.1,957.0 L208.1,957.0 L210.1,957.0 L212.1,957.0 L214.1,957.0 L216.1,957.0 L218.1,957.0 L220.1,957.0 L222.1,957.0 L224.1,957.0 L226.1,957.0 L228.1,957.0 L230.1,957.0 L232.1,957.0 L234.1,957.0 L236.1,957.0 L238.1,957.0 L240.1,957.0 L242.1,957.0 L244.1,957.0 L246.1,957.0 L248.1,957.0 L250.1,957.0 L252.1,957.0 L254.1,957.0 L256.1,957.0 L258.1,957.0 L260.1,957.0 L262.1,957.0 L264.1,957.0 L266.1,957.0 L268.1,957.0 L270.1,957.0 L272.1,957.0 L274.1,957.0 L276.1,957.0 L278.1,957.0 L280.1,957.0 L282.1,957.0 L284.1,957.0 L286.1,957.0 L288.1,957.0 L290.1,957.0 L292.1,957.0 L294.1,957.0 L296.1,957.0 L298.1,957.0 L300.1,957.0 L302.1,957.0 L304.1,957.0 L306.1,957.0 L308.1,957.0 L310.1,957.0 L312.1,957.0 L314.1,957.0 L316.1,957.0 L318.1,957.0 L320.1,957.0 L322.1,957.0 L324.1,957.0 L326.1,957.0 L328.1,957.0 L330.1,957.0 L332.1,957.0 L334.1,957.0 L336.1,957.0 L338.1,957.0 L340.1,957.0 L342.1,957.0 L344.1,957.0 L346.1,957.0 L348.1,957.0 L350.1,957.0 L352.1,957.0 L354.1,957.0 L356.1,957.0 L358.1,957.0 L360.1,957.0 L362.1,957.0 L364.1,957.0 L366.1,957.0 L368.1,957.0 L370.1,957.0 L372.1,957.0 L374.1,957.0 L376.1,957.0 L378.1,957.0 L380.1,957.0 L382.1,957.0 L384.1,957.0 L386.1,957.0 L388.1,957.0 L390.1,957.0 L392.1,957.0 L394.1,957.0 L396.1,957.0 L398.1,957.0 L400.1,957.0 L402.1,957.0 L404.1,957.0 L406.1,957.0 L408.1,957.0 L410.1,957.0 L412.1,957.0 L414.1,957.0 L416.1,957.0 L418.1,957.0 L420.1,957.0 L422.1,957.0 L424.1,957.0 L426.1,957.0 L428.1,957.0 L430.1,957.0 L432.1,957.0 L434.1,957.0 L436.1,957.0 L438.1,957.0 L440.1,957.0 L442.1,957.0 L444.1,957.0 L446.1,957.0 L448.1,957.0 L450.1,957.0 L452.1,957.0 L454.1,957.0 L456.1,957.0 L458.1,957.0 L460.1,957.0 L462.1,957.0 L464.1,957.0 L466.1,957.0 L468.1,957.0 L470.1,957.0 L472.1,957.0 L474.1,957.0 L476.1,957.0 L478.1,957.0 L480.1,957.0 L482.1,957.0 L484.1,956.9 L486.1,956.9 L488.1,956.9 L490.1,956.9 L492.1,956.9 L494.1,956.9 L496.1,956.9 L498.1,956.9 L500.1,956.9 L502.1,956.9 L504.1,956.9 L506.1,956.9 L508.1,956.9 L510.1,956.9 L512.1,956.9 L514.1,956.9 L516.1,956.9 L518.1,956.9 L520.1,956.8 L522.1,956.8 L524.1,956.8 L526.1,956.8 L528.1,956.8 L530.1,956.8 L532.1,956.8 L534.1,956.8 L536.1,956.7 L538.1,956.7 L540.1,956.7 L542.1,956.7 L544.1,956.7 L546.1,956.7 L548.1,956.6 L550.1,956.6 L552.1,956.6 L554.1,956.6 L556.1,956.6 L558.1,956.5 L560.1,956.5 L562.1,956.5 L564.1,956.5 L566.1,956.4 L568.1,956.4 L570.1,956.4 L572.1,956.3 L574.1,956.3 L576.1,956.2 L578.1,956.2 L580.1,956.2 L582.1,956.1 L584.1,956.1 L586.1,956.0 L588.1,956.0 L590.1,955.9 L592.1,955.9 L594.1,955.8 L596.1,955.7 L598.1,955.7 L600.1,955.6 L602.1,955.5 L604.1,955.5 L606.1,955.4 L608.1,955.3 L610.1,955.2 L612.1,955.1 L614.1,955.1 L616.1,955.0 L618.1,954.9 L620.1,954.8 L622.1,954.6 L624.1,954.5 L626.1,954.4 L628.1,954.3 L630.1,954.2 L632.1,954.0 L634.1,953.9 L636.1,953.7 L638.1,953.6 L640.1,953.4 L642.1,953.3 L644.1,953.1 L646.1,952.9 L648.1,952.8 L650.1,952.6 L652.1,952.4 L654.1,952.2 L656.1,951.9 L658.1,951.7 L660.1,951.5 L662.1,951.3 L664.1,951.0 L666.1,950.7 L668.1,950.5 L670.1,950.2 L672.1,949.9 L674.1,949.6 L676.1,949.3 L678.1,949.0 L680.1,948.7 L682.1,948.3 L684.1,948.0 L686.1,947.6 L688.1,947.2 L690.1,946.8 L692.1,946.4 L694.1,946.0 L696.1,945.6 L698.1,945.1 L700.1,944.7 L702.1,944.2 L704.1,943.7 L706.1,943.2 L708.1,942.7 L710.1,942.1 L712.1,941.6 L714.1,941.0 L716.1,940.4 L718.1,939.8 L720.1,939.2 L722.1,938.5 L724.1,937.9 L726.1,937.2 L728.1,936.5 L730.1,935.8 L732.1,935.0 L734.1,934.3 L736.1,933.5 L738.1,932.7 L740.1,931.8 L742.1,931.0 L744.1,930.1 L746.1,929.2 L748.1,928.3 L750.1,927.4 L752.1,926.4 L754.1,925.4 L756.1,924.4 L758.1,923.4 L760.1,922.3 L762.1,921.2 L764.1,920.1 L766.1,919.0 L768.1,917.8 L770.1,916.6 L772.1,915.4 L774.1,914.1 L776.1,912.9 L778.1,911.6 L780.1,910.2 L782.1,908.9 L784.1,907.5 L786.1,906.1 L788.1,904.6 L790.1,903.2 L792.1,901.7 L794.1,900.1 L796.1,898.6 L798.1,897.0 L800.1,895.4 L802.1,893.8 L804.1,892.1 L806.1,890.4 L808.1,888.7 L810.1,886.9 L812.1,885.1 L814.1,883.3 L816.1,881.5 L818.1,879.6 L820.1,877.7 L822.1,875.8 L824.1,873.8 L826.1,871.9 L828.1,869.8 L830.1,867.8 L832.1,865.8 L834.1,863.7 L836.1,861.6 L838.1,859.4 L840.1,857.3 L842.1,855.1 L844.1,852.9 L846.1,850.7 L848.1,848.4 L850.1,846.1 L852.1,843.8 L854.1,841.5 L856.1,839.2 L858.1,836.8 L860.1,834.5 L862.1,832.1 L864.1,829.6 L866.1,827.2 L868.1,824.8 L870.1,822.3 L872.1,819.9 L874.1,817.4 L876.1,814.9 L878.1,812.4 L880.1,809.8 L882.1,807.3 L884.1,804.8 L886.1,802.2 L888.1,799.7 L890.1,797.1 L892.1,794.6 L894.1,792.0 L896.1,789.5 L898.1,786.9 L900.1,784.3 L902.1,781.8 L904.1,779.2 L906.1,776.7 L908.1,774.1 L910.1,771.6 L912.1,769.1 L914.1,766.5 L916.1,764.0 L918.1,761.5 L920.1,759.0 L922.1,756.6 L924.1,754.1 L926.1,751.7 L928.1,749.3 L930.1,746.9 L932.1,744.5 L934.1,742.1 L936.1,739.8 L938.1,737.5 L940.1,735.2 L942.1,733.0 L944.1,730.8 L946.1,728.6 L948.1,726.4 L950.1,724.3 L952.1,722.2 L954.1,720.2 L956.1,718.2 L958.1,716.2 L960.1,714.2 L962.1,712.4 L964.1,710.5 L966.1,708.7 L968.1,706.9 L970.1,705.2 L972.1,703.5 L974.1,701.9 L976.1,700.3 L978.1,698.8 L980.1,697.3 L982.1,695.9 L984.1,694.6 L986.1,693.2 L988.1,692.0 L990.1,690.8 L992.1,689.6 L994.1,688.5 L996.1,687.5 L998.1,686.5 L1000.1,685.6 L1002.1,684.8 L1004.1,684.0 L1006.1,683.2 L1008.1,682.6 L1010.1,681.9 L1012.1,681.4 L1014.1,680.9 L1016.1,680.5 L1018.1,680.1 L1020.1,679.8 L1022.1,679.6 L1024.1,679.4 L1026.1,679.3 L1028.1,679.3 L1030.1,679.3 L1032.1,679.4 L1034.1,679.6 L1036.1,679.8 L1038.1,680.1 L1040.1,680.4 L1042.1,680.9 L1044.1,681.4 L1046.1,681.9 L1048.1,682.5 L1050.1,683.2 L1052.1,683.9 L1054.1,684.7 L1056.1,685.6 L1058.1,686.5 L1060.1,687.5 L1062.1,688.6 L1064.1,689.7 L1066.1,690.9 L1068.1,692.1 L1070.1,693.4 L1072.1,694.7 L1074.1,696.1 L1076.1,697.6 L1078.1,699.1 L1080.1,700.6 L1082.1,702.2 L1084.1,703.9 L1086.1,705.6 L1088.1,707.3 L1090.1,709.1 L1092.1,711.0 L1094.1,712.9 L1096.1,714.8 L1098.1,716.8 L1100.1,718.8 L1102.1,720.9 L1104.1,723.0 L1106.1,725.1 L1108.1,727.3 L1110.1,729.5 L1112.1,731.7 L1114.1,734.0 L1116.1,736.2 L1118.1,738.6 L1120.1,740.9 L1122.1,743.3 L1124.1,745.7 L1126.1,748.1 L1128.1,750.6 L1130.1,753.0 L1132.1,755.5 L1134.1,758.0 L1136.1,760.5 L1138.1,763.0 L1140.1,765.6 L1142.1,768.1 L1144.1,770.7 L1146.1,773.3 L1148.1,775.9 L1150.1,778.4 L1152.1,781.0 L1154.1,783.6 L1156.1,786.2 L1158.1,788.8 L1160.1,791.4 L1162.1,794.0 L1164.1,796.6 L1166.1,799.2 L1168.1,801.8 L1170.1,804.4 L1172.1,806.9 L1174.1,809.5 L1176.1,812.1 L1178.1,814.6 L1180.1,817.1 L1182.1,819.7 L1184.1,822.2 L1186.1,824.7 L1188.1,827.2 L1190.1,829.6 L1192.1,832.1 L1194.1,834.5 L1196.1,836.9 L1198.1,839.3 L1200.1,841.7 L1202.1,844.0 L1204.1,846.3 L1206.1,848.6 L1208.1,850.9 L1210.1,853.2 L1212.1,855.4 L1214.1,857.6 L1216.1,859.8 L1218.1,862.0 L1220.1,864.1 L1222.1,866.2 L1224.1,868.3 L1226.1,870.4 L1228.1,872.4 L1230.1,874.4 L1232.1,876.4 L1234.1,878.3 L1236.1,880.2 L1238.1,882.1 L1240.1,884.0 L1242.1,885.8 L1244.1,887.6 L1246.1,889.3 L1248.1,891.1 L1250.1,892.8 L1252.1,894.5 L1254.1,896.1 L1256.1,897.8 L1258.1,899.3 L1260.1,900.9 L1262.1,902.4 L1264.1,903.9 L1266.1,905.4 L1268.1,906.9 L1270.1,908.3 L1272.1,909.7 L1274.1,911.0 L1276.1,912.4 L1278.1,913.7 L1280.1,914.9 L1282.1,916.2 L1284.1,917.4 L1286.1,918.6 L1288.1,919.8 L1290.1,920.9 L1292.1,922.0 L1294.1,923.1 L1296.1,924.2 L1298.1,925.2 L1300.1,926.2 L1302.1,927.2 L1304.1,928.1 L1306.1,929.1 L1308.1,930.0 L1310.1,930.9 L1312.1,931.7 L1314.1,932.6 L1316.1,933.4 L1318.1,934.2 L1320.1,935.0 L1322.1,935.7 L1324.1,936.5 L1326.1,937.2 L1328.1,937.9 L1330.1,938.5 L1332.1,939.2 L1334.1,939.8 L1336.1,940.5 L1338.1,941.1 L1340.1,941.6 L1342.1,942.2 L1344.1,942.7 L1346.1,943.3 L1348.1,943.8 L1350.1,944.3 L1352.1,944.8 L1354.1,945.2 L1356.1,945.7 L1358.1,946.1 L1360.1,946.5 L1362.1,946.9 L1364.1,947.3 L1366.1,947.7 L1368.1,948.1 L1370.1,948.4 L1372.1,948.8 L1374.1,949.1 L1376.1,949.4 L1378.1,949.7 L1380.1,950.0 L1382.1,950.3 L1384.1,950.6 L1386.1,950.9 L1388.1,951.1 L1390.1,951.4 L1392.1,951.6 L1394.1,951.8 L1396.1,952.0 L1398.1,952.3 L1400.1,952.5 L1402.1,952.7 L1404.1,952.9 L1406.1,953.0 L1408.1,953.2 L1410.1,953.4 L1412.1,953.5 L1414.1,953.7 L1416.1,953.8 L1418.1,954.0 L1420.1,954.1 L1422.1,954.3 L1424.1,954.4 L1426.1,954.5 L1428.1,954.6 L1430.1,954.7 L1432.1,954.8 L1434.1,954.9 L1436.1,955.0 L1438.1,955.1 L1440.1,955.2 L1442.1,955.3 L1444.1,955.4 L1446.1,955.5 L1448.1,955.5 L1450.1,955.6 L1452.1,955.7 L1454.1,955.7 L1456.1,955.8 L1458.1,955.9 L1460.1,955.9 L1462.1,956.0 L1464.1,956.0 L1466.1,956.1 L1468.1,956.1 L1470.1,956.2 L1472.1,956.2 L1474.1,956.3 L1476.1,956.3 L1478.1,956.3 L1480.1,956.4 L1482.1,956.4 L1484.1,956.4 L1486.1,956.5 L1488.1,956.5 L1490.1,956.5 L1492.1,956.5 L1494.1,956.6 L1496.1,956.6 L1498.1,956.6 L1500.1,956.6 L1502.1,956.7 L1504.1,956.7 L1506.1,956.7 L1508.1,956.7 L1510.1,956.7 L1512.1,956.7 L1514.1,956.8 L1516.1,956.8 L1518.1,956.8 L1520.1,956.8 L1522.1,956.8 L1524.1,956.8 L1526.1,956.8 L1528.1,956.8 L1530.1,956.8 L1532.1,956.9 L1534.1,956.9 L1536.1,956.9 L1538.1,956.9 L1540.1,956.9 L1542.1,956.9 L1544.1,956.9 L1546.1,956.9 L1548.1,956.9 L1550.1,956.9 L1552.1,956.9 L1554.1,956.9 L1556.1,956.9 L1558.1,956.9 L1560.1,956.9 L1562.1,956.9 L1564.1,956.9 L1566.1,956.9 L1568.1,957.0 L1570.1,957.0 L1572.1,957.0 L1574.1,957.0 L1576.1,957.0 L1578.1,957.0 L1580.1,957.0 L1582.1,957.0 L1584.1,957.0 L1586.1,957.0 L1588.1,957.0 L1590.1,957.0 L1592.1,957.0 L1594.1,957.0 L1596.1,957.0 L1598.1,957.0 L1600.1,957.0 L1602.1,957.0 L1604.1,957.0 L1606.1,957.0 L1608.1,957.0 L1610.1,957.0 L1612.1,957.0 L1614.1,957.0 L1616.1,957.0 L1618.1,957.0 L1620.1,957.0 L1622.1,957.0 L1624.1,957.0 L1626.1,957.0 L1628.1,957.0 L1630.1,957.0 L1632.1,957.0 L1634.1,957.0 L1635.0,957.0"/>
<use href="#dG2" x="1.0"/>
</g>
<path id="dB" transform="translate(-0.5,0)" stroke="#0000ff" d="M108.1,937.9 L110.1,937.3 L112.1,936.7 L114.1,936.1 L116.1,935.4 L118.1,934.7 L120.1,934.0 L122.1,933.3 L124.1,932.6 L126.1,931.9 L128.1,931.1 L130.1,930.3 L132.1,929.5 L134.1,928.7 L136.1,927.9 L138.1,927.0 L140.1,926.1 L142.1,925.2 L144.1,924.3 L146.1,923.4 L148.1,922.4 L150.1,921.4 L152.1,920.4 L154.1,919.4 L156.1,918.4 L158.1,917.3 L160.1,916.2 L162.1,915.1 L164.1,913.9 L166.1,912.8 L168.1,911.6 L170.1,910.3 L172.1,909.1 L174.1,907.8 L176.1,906.5 L178.1,905.2 L180.1,903.9 L182.1,902.5 L184.1,901.1 L186.1,899.7 L188.1,898.3 L190.1,896.8 L192.1,895.3 L194.1,893.7 L196.1,892.2 L198.1,890.6 L200.1,889.0 L202.1,887.3 L204.1,885.7 L206.1,884.0 L208.1,882.3 L210.1,880.5 L212.1,878.7 L214.1,876.9 L216.1,875.1 L218.1,873.2 L220.1,871.3 L222.1,869.4 L224.1,867.4 L226.1,865.4 L228.1,863.4 L230.1,861.4 L232.1,859.3 L234.1,857.2 L236.1,855.1 L238.1,852.9 L240.1,850.8 L242.1,848.6 L244.1,846.3 L246.1,844.0 L248.1,841.7 L250.1,839.4 L252.1,837.1 L254.1,834.7 L256.1,832.3 L258.1,829.9 L260.1,827.4 L262.1,824.9 L264.1,822.4 L266.1,819.9 L268.1,817.3 L270.1,814.7 L272.1,812.1 L274.1,809.5 L276.1,806.8 L278.1,804.1 L280.1,801.4 L282.1,798.7 L284.1,796.0 L286.1,793.2 L288.1,790.4 L290.1,787.6 L292.1,784.8 L294.1,781.9 L296.1,779.1 L298.1,776.2 L300.1,773.3 L302.1,770.4 L304.1,767.4 L306.1,764.5 L308.1,761.5 L310.1,758.5 L312.1,755.5 L314.1,752.5 L316.1,749.5 L318.1,746.5 L320.1,743.5 L322.1,740.4 L324.1,737.4 L326.1,734.3 L328.1,731.3 L330.1,728.2 L332.1,725.1 L334.1,722.1 L336.1,719.0 L338.1,715.9 L340.1,712.8 L342.1,709.8 L344.1,706.7 L346.1,703.6 L348.1,700.5 L350.1,697.5 L352.1,694.4 L354.1,691.4 L356.1,688.3 L358.1,685.3 L360.1,682.3 L362.1,679.3 L364.1,676.3 L366.1,673.3 L368.1,670.3 L370.1,667.4 L372.1,664.4 L374.1,661.5 L376.1,658.6 L378.1,655.7 L380.1,652.8 L382.1,650.0 L384.1,647.2 L386.1,644.4 L388.1,641.6 L390.1,638.9 L392.1,636.2 L394.1,633.5 L396.1,630.9 L398.1,628.3 L400.1,625.7 L402.1,623.1 L404.1,620.6 L406.1,618.1 L408.1,615.7 L410.1,613.3 L412.1,610.9 L414.1,608.6 L416.1,606.3 L418.1,604.0 L420.1,601.8 L422.1,599.7 L424.1,597.6 L426.1,595.5 L428.1,593.5 L430.1,591.5 L432.1,589.6 L434.1,587.7 L436.1,585.9 L438.1,584.1 L440.1,582.4 L442.1,580.7 L444.1,579.1 L446.1,577.6 L448.1,576.1 L450.1,574.6 L452.1,573.2 L454.1,571.9 L456.1,570.6 L458.1,569.4 L460.1,568.2 L462.1,567.1 L464.1,566.1 L466.1,565.1 L468.1,564.2 L470.1,563.3 L472.1,562.5 L474.1,561.8 L476.1,561.1 L478.1,560.5 L480.1,560.0 L482.1,559.5 L484.1,559.1 L486.1,558.7 L488.1,558.4 L490.1,558.2 L492.1,558.1 L494.1,558.0 L496.1,557.9 L498.1,558.0 L500.1,558.0 L502.1,558.2 L504.1,558.4 L506.1,558.7 L508.1,559.1 L510.1,559.5 L512.1,560.0 L514.1,560.5 L516.1,561.1 L518.1,561.8 L520.1,562.5 L522.1,563.3 L524.1,564.1 L526.1,565.0 L528.1,566.0 L530.1,567.1 L532.1,568.1 L534.1,569.3 L536.1,570.5 L538.1,571.8 L540.1,573.1 L542.1,574.5 L544.1,575.9 L546.1,577.4 L548.1,578.9 L550.1,580.5 L552.1,582.2 L554.1,583.9 L556.1,585.6 L558.1,587.4 L560.1,589.3 L562.1,591.2 L564.1,593.1 L566.1,595.1 L568.1,597.2 L570.1,599.3 L572.1,601.4 L574.1,603.6 L576.1,605.8 L578.1,608.0 L580.1,610.3 L582.1,612.6 L584.1,615.0 L586.1,617.4 L588.1,619.8 L590.1,622.3 L592.1,624.8 L594.1,627.3 L596.1,629.9 L598.1,632.5 L600.1,635.1 L602.1,637.7 L604.1,640.4 L606.1,643.1 L608.1,645.8 L610.1,648.5 L612.1,651.3 L614.1,654.1 L616.1,656.8 L618.1,659.6 L620.1,662.5 L622.1,665.3 L624.1,668.1 L626.1,671.0 L628.1,673.9 L630.1,676.7 L632.1,679.6 L634.1,682.5 L636.1,685.4 L638.1,688.3 L640.1,691.2 L642.1,694.1 L644.1,697.0 L646.1,699.9 L648.1,702.7 L650.1,705.6 L652.1,708.5 L654.1,711.4 L656.1,714.2 L658.1,717.1 L660.1,719.9 L662.1,722.8 L664.1,725.6 L666.1,728.4 L668.1,731.2 L670.1,733.9 L672.1,736.7 L674.1,739.4 L676.1,742.1 L678.1,744.8 L680.1,747.5 L682.1,750.2 L684.1,752.8 L686.1,755.4 L688.1,757.9 L690.1,760.5 L692.1,763.0 L694.1,765.5 L696.1,767.9 L698.1,770.3 L700.1,772.7 L702.1,775.1 L704.1,777.4 L706.1,779.7 L708.1,781.9 L710.1,784.1 L712.1,786.3 L714.1,788.4 L716.1,790.5 L718.1,792.6 L720.1,794.6 L722.1,796.5 L724.1,798.4 L726.1,800.3 L728.1,802.2 L730.1,803.9 L732.1,805.7 L734.1,807.4 L736.1,809.0 L738.1,810.6 L740.1,812.2 L742.1,813.7 L744.1,815.1 L746.1,816.5 L748.1,817.9 L750.1,819.1 L752.1,820.4 L754.1,821.6 L756.1,822.7 L758.1,823.8 L760.1,824.8 L762.1,825.8 L764.1,826.7 L766.1,827.6 L768.1,828.4 L770.1,829.2 L772.1,829.9 L774.1,830.5 L776.1,831.1 L778.1,831.7 L780.1,832.1 L782.1,832.6 L784.1,832.9 L786.1,833.2 L788.1,833.5 L790.1,833.7 L792.1,833.8 L794.1,833.9 L796.1,833.9 L798.1,833.9 L800.1,833.8 L802.1,833.7 L804.1,833.5 L806.1,833.2 L808.1,832.9 L810.1,832.6 L812.1,832.1 L814.1,831.7 L816.1,831.1 L818.1,830.6 L820.1,829.9 L822.1,829.3 L824.1,828.5 L826.1,827.7 L828.1,826.9 L830.1,826.0 L832.1,825.1 L834.1,824.1 L836.1,823.0 L838.1,821.9 L840.1,820.8 L842.1,819.6 L844.1,818.4 L846.1,817.1 L848.1,815.8 L850.1,814.5 L852.1,813.1 L854.1,811.6 L856.1,810.1 L858.1,808.6 L860.1,807.1 L862.1,805.5 L864.1,803.8 L866.1,802.2 L868.1,800.5 L870.1,798.7 L872.1,797.0 L874.1,795.2 L876.1,793.3 L878.1,791.5 L880.1,789.6 L882.1,787.7 L884.1,785.8 L886.1,783.8 L888.1,781.8 L890.1,779.8 L892.1,777.8 L894.1,775.8 L896.1,773.8 L898.1,771.7 L900.1,769.6 L902.1,767.5 L904.1,765.4 L906.1,763.3 L908.1,761.2 L910.1,759.1 L912.1,757.0 L914.1,754.9 L916.1,752.8 L918.1,750.6 L920.1,748.5 L922.1,746.4 L924.1,744.3 L926.1,742.2 L928.1,740.1 L930.1,738.0 L932.1,735.9 L934.1,733.9 L936.1,731.9 L938.1,729.8 L940.1,727.8 L942.1,725.8 L944.1,723.9 L946.1,721.9 L948.1,720.0 L950.1,718.1 L952.1,716.3 L954.1,714.4 L956.1,712.6 L958.1,710.8 L960.1,709.1 L962.1,707.4 L964.1,705.7 L966.1,704.1 L968.1,702.5 L970.1,701.0 L972.1,699.4 L974.1,698.0 L976.1,696.6 L978.1,695.2 L980.1,693.8 L982.1,692.6 L984.1,691.3 L986.1,690.1 L988.1,689.0 L990.1,687.9 L992.1,686.9 L994.1,685.9 L996.1,685.0 L998.1,684.1 L1000.1,683.3 L1002.1,682.5 L1004.1,681.8 L1006.1,681.2 L1008.1,680.6 L1010.1,680.0 L1012.1,679.6 L1014.1,679.2 L1016.1,678.8 L1018.1,678.5 L1020.1,678.3 L1022.1,678.1 L1024.1,678.0 L1026.1,678.0 L1028.1,678.0 L1030.1,678.1 L1032.1,678.2 L1034.1,678.4 L1036.1,678.7 L1038.1,679.0 L1040.1,679.4 L1042.1,679.9 L1044.1,680.4 L1046.1,681.0 L1048.1,681.7 L1050.1,682.4 L1052.1,683.2 L1054.1,684.0 L1056.1,684.9 L1058.1,685.9 L1060.1,686.9 L1062.1,688.0 L1064.1,689.1 L1066.1,690.3 L1068.1,691.6 L1070.1,692.9 L1072.1,694.2 L1074.1,695.6 L1076.1,697.1 L1078.1,698.6 L1080.1,700.2 L1082.1,701.8 L1084.1,703.5 L1086.1,705.2 L1088.1,707.0 L1090.1,708.8 L1092.1,710.7 L1094.1,712.6 L1096.1,714.5 L1098.1,716.5 L1100.1,718.6 L1102.1,720.6 L1104.1,722.7 L1106.1,724.9 L1108.1,727.0 L1110.1,729.3 L1112.1,731.5 L1114.1,733.8 L1116.1,736.1 L1118.1,738.4 L1120.1,740.8 L1122.1,743.1 L1124.1,745.6 L1126.1,748.0 L1128.1,750.4 L1130.1,752.9 L1132.1,755.4 L1134.1,757.9 L1136.1,760.4 L1138.1,762.9 L1140.1,765.5 L1142.1,768.1 L1144.1,770.6 L1146.1,773.2 L1148.1,775.8 L1150.1,778.4 L1152.1,781.0 L1154.1,783.6 L1156.1,786.2 L1158.1,788.8 L1160.1,791.4 L1162.1,794.0 L1164.1,796.6 L1166.1,799.2 L1168.1,801.8 L1170.1,804.3 L1172.1,806.9 L1174.1,809.5 L1176.1,812.0 L1178.1,814.6 L1180.1,817.1 L1182.1,819.6 L1184.1,822.2 L1186.1,824.6 L1188.1,827.1 L1190.1,829.6 L1192.1,832.0 L1194.1,834.5 L1196.1,836.9 L1198.1,839.3 L1200.1,841.6 L1202.1,844.0 L1204.1,846.3 L1206.1,848.6 L1208.1,850.9 L1210.1,853.2 L1212.1,855.4 L1214.1,857.6 L1216.1,859.8 L1218.1,862.0 L1220.1,864.1 L1222.1,866.2 L1224.1,868.3 L1226.1,870.3 L1228.1,872.4 L1230.1,874.4 L1232.1,876.3 L1234.1,878.3 L1236.1,880.2 L1238.1,882.1 L1240.1,883.9 L1242.1,885.8 L1244.1,887.6 L1246.1,889.3 L1248.1,891.1 L1250.1,892.8 L1252.1,894.5 L1254.1,896.1 L1256.1,897.7 L1258.1,899.3 L1260.1,900.9 L1262.1,902.4 L1264.1,903.9 L1266.1,905.4 L1268.1,906.9 L1270.1,908.3 L1272.1,909.7 L1274.1,911.0 L1276.1,912.4 L1278.1,913.7 L1280.1,914.9 L1282.1,916.2 L1284.1,917.4 L1286.1,918.6 L1288.1,919.8 L1290.1,920.9 L1292.1,922.0 L1294.1,923.1 L1296.1,924.2 L1298.1,925.2 L1300.1,926.2 L1302.1,927.2 L1304.1,928.1 L1306.1,929.1 L1308.1,930.0 L1310.1,930.9 L1312.1,931.7 L1314.1,932.6 L1316.1,933.4 L1318.1,934.2 L1320.1,935.0 L1322.1,935.7 L1324.1,936.5 L1326.1,937.2 L1328.1,937.9 L1330.1,938.5 L1332.1,939.2 L1334.1,939.8 L1336.1,940.5 L1338.1,941.0 L1340.1,941.6 L1342.1,942.2 L1344.1,942.7 L1346.1,943.3 L1348.1,943.8 L1350.1,944.3 L1352.1,944.8 L1354.1,945.2 L1356.1,945.7 L1358.1,946.1 L1360.1,946.5 L1362.1,946.9 L1364.1,947.3 L1366.1,947.7 L1368.1,948.1 L1370.1,948.4 L1372.1,948.8 L1374.1,949.1 L1376.1,949.4 L1378.1,949.7 L1380.1,950.0 L1382.1,950.3 L1384.1,950.6 L1386.1,950.9 L1388.1,951.1 L1390.1,951.4 L1392.1,951.6 L1394.1,951.8 L1396.1,952.0 L1398.1,952.3 L1400.1,952.5 L1402.1,952.7 L1404.1,952.9 L1406.1,953.0 L1408.1,953.2 L1410.1,953.4 L1412.1,953.5 L1414.1,953.7 L1416.1,953.8 L1418.1,954.0 L1420.1,954.1 L1422.1,954.3 L1424.1,954.4 L1426.1,954.5 L1428.1,954.6 L1430.1,954.7 L1432.1,954.8 L1434.1,954.9 L1436.1,955.0 L1438.1,955.1 L1440.1,955.2 L1442.1,955.3 L1444.1,955.4 L1446.1,955.5 L1448.1,955.5 L1450.1,955.6 L1452.1,955.7 L1454.1,955.7 L1456.1,955.8 L1458.1,955.9 L1460.1,955.9 L1462.1,956.0 L1464.1,956.0 L1466.1,956.1 L1468.1,956.1 L1470.1,956.2 L1472.1,956.2 L1474.1,956.3 L1476.1,956.3 L1478.1,956.3 L1480.1,956.4 L1482.1,956.4 L1484.1,956.4 L1486.1,956.5 L1488.1,956.5 L1490.1,956.5 L1492.1,956.5 L1494.1,956.6 L1496.1,956.6 L1498.1,956.6 L1500.1,956.6 L1502.1,956.7 L1504.1,956.7 L1506.1,956.7 L1508.1,956.7 L1510.1,956.7 L1512.1,956.7 L1514.1,956.8 L1516.1,956.8 L1518.1,956.8 L1520.1,956.8 L1522.1,956.8 L1524.1,956.8 L1526.1,956.8 L1528.1,956.8 L1530.1,956.8 L1532.1,956.9 L1534.1,956.9 L1536.1,956.9 L1538.1,956.9 L1540.1,956.9 L1542.1,956.9 L1544.1,956.9 L1546.1,956.9 L1548.1,956.9 L1550.1,956.9 L1552.1,956.9 L1554.1,956.9 L1556.1,956.9 L1558.1,956.9 L1560.1,956.9 L1562.1,956.9 L1564.1,956.9 L1566.1,956.9 L1568.1,957.0 L1570.1,957.0 L1572.1,957.0 L1574.1,957.0 L1576.1,957.0 L1578.1,957.0 L1580.1,957.0 L1582.1,957.0 L1584.1,957.0 L1586.1,957.0 L1588.1,957.0 L1590.1,957.0 L1592.1,957.0 L1594.1,957.0 L1596.1,957.0 L1598.1,957.0 L1600.1,957.0 L1602.1,957.0 L1604.1,957.0 L1606.1,957.0 L1608.1,957.0 L1610.1,957.0 L1612.1,957.0 L1614.1,957.0 L1616.1,957.0 L1618.1,957.0 L1620.1,957.0 L1622.1,957.0 L1624.1,957.0 L1626.1,957.0 L1628.1,957.0 L1630.1,957.0 L1632.1,957.0 L1634.1,957.0 L1636.1,957.0 L1638.1,957.0 L1639.0,957.0"/>
<use href="#dB" x="1.0"/>
<path id="dK" transform="translate(-0.5,0)" stroke="#000000" d="M108.4,955.0 L108.4,956.9 L110.8,957.3 L110.8,959.4 L113.2,959.8 L113.2,962.0 L115.6,962.4 L115.6,964.2 L118.0,964.4 L118.0,965.5 L120.4,965.6 L120.4,966.0 L122.8,966.0 L122.8,966.2 L125.2,966.2 L125.2,966.4 L127.6,966.4 L127.6,966.6 L130.0,966.6 L130.0,966.9 L132.4,966.9 L132.4,967.1 L134.8,967.1 L134.8,967.3 L137.2,967.3 L137.2,967.5 L139.5,967.5 L139.5,967.6 L141.9,967.6 L141.9,967.7 L144.3,967.7 L144.3,967.8 L146.7,967.8 L146.7,967.9 L149.1,967.9 L149.1,968.0 L151.5,968.0 L151.5,968.0 L153.9,968.0 L153.9,968.0 L156.3,967.9 L156.3,967.9 L158.7,967.9 L158.7,967.7 L161.1,967.7 L161.1,967.6 L163.5,967.5 L163.5,967.2 L165.9,967.2 L165.9,966.7 L168.3,966.6 L168.3,965.8 L170.7,965.7 L170.7,964.8 L173.1,964.6 L173.1,963.5 L175.5,963.2 L175.5,962.0 L177.9,961.8 L177.9,960.7 L180.3,960.6 L180.3,959.6 L182.7,959.4 L182.7,958.3 L185.1,958.1 L185.1,957.0 L187.4,956.8 L187.4,955.5 L189.8,955.3 L189.8,953.9 L192.2,953.6 L192.2,952.2 L194.6,951.9 L194.6,950.3 L197.0,950.0 L197.0,948.1 L199.4,947.8 L199.4,945.5 L201.8,945.1 L201.8,942.7 L204.2,942.4 L204.2,940.2 L206.6,939.8 L206.6,937.4 L209.0,936.9 L209.0,933.9 L211.4,933.3 L211.4,929.8 L213.8,929.2 L213.8,925.4 L216.2,924.7 L216.2,921.0 L218.6,920.4 L218.6,917.1 L221.0,916.6 L221.0,913.8 L223.4,913.3 L223.4,911.0 L225.8,910.6 L225.8,908.3 L228.2,907.9 L228.2,905.5 L230.6,905.0 L230.6,902.2 L232.9,901.7 L232.9,898.6 L235.3,898.0 L235.3,894.5 L237.7,893.8 L237.7,889.5 L240.1,888.7 L240.1,883.6 L242.5,882.7 L242.5,877.6 L244.9,876.7 L244.9,872.1 L247.3,871.3 L247.3,866.7 L249.7,865.8 L249.7,860.3 L252.1,859.2 L252.1,852.6 L254.5,851.4 L254.5,845.0 L256.9,843.9 L256.9,838.4 L259.3,837.5 L259.3,833.0 L261.7,832.4 L261.7,828.8 L264.1,828.3 L264.1,825.2 L266.5,824.7 L266.5,821.7 L268.9,821.2 L268.9,818.2 L271.3,817.7 L271.3,814.4 L273.7,813.8 L273.7,809.7 L276.1,808.9 L276.1,803.6 L278.5,802.6 L278.5,796.7 L280.9,795.6 L280.9,789.8 L283.2,788.8 L283.2,783.1 L285.6,782.1 L285.6,776.6 L288.0,775.7 L288.0,770.6 L290.4,769.8 L290.4,765.2 L292.8,764.4 L292.8,760.2 L295.2,759.4 L295.2,755.3 L297.6,754.6 L297.6,750.5 L300.0,749.8 L300.0,745.3 L302.4,744.4 L302.4,739.0 L304.8,737.9 L304.8,731.5 L307.2,730.3 L307.2,724.0 L309.6,723.0 L309.6,717.5 L312.0,716.6 L312.0,711.9 L314.4,711.2 L314.4,707.0 L316.8,706.3 L316.8,702.1 L319.2,701.3 L319.2,696.9 L321.6,696.1 L321.6,691.6 L324.0,690.8 L324.0,686.2 L326.4,685.4 L326.4,680.7 L328.8,679.9 L328.8,674.6 L331.1,673.5 L331.1,667.4 L333.5,666.3 L333.5,660.1 L335.9,659.1 L335.9,653.9 L338.3,653.1 L338.3,649.3 L340.7,648.8 L340.7,645.9 L343.1,645.5 L343.1,642.7 L345.5,642.2 L345.5,639.4 L347.9,638.9 L347.9,636.0 L350.3,635.5 L350.3,632.8 L352.7,632.3 L352.7,629.6 L355.1,629.1 L355.1,626.2 L357.5,625.7 L357.5,622.8 L359.9,622.2 L359.9,619.3 L362.3,618.8 L362.3,615.9 L364.7,615.4 L364.7,612.5 L367.1,612.0 L367.1,609.2 L369.5,608.7 L369.5,606.0 L371.9,605.6 L371.9,603.2 L374.3,602.8 L374.3,600.9 L376.6,600.6 L376.6,599.1 L379.0,598.9 L379.0,597.6 L381.4,597.4 L381.4,596.1 L383.8,595.9 L383.8,594.8 L386.2,594.6 L386.2,593.6 L388.6,593.4 L388.6,592.5 L391.0,592.4 L391.0,591.6 L393.4,591.5 L393.4,590.8 L395.8,590.6 L395.8,590.0 L398.2,589.9 L398.2,589.2 L400.6,589.1 L400.6,588.5 L403.0,588.4 L403.0,587.9 L405.4,587.8 L405.4,587.3 L407.8,587.2 L407.8,586.7 L410.2,586.7 L410.2,586.2 L412.6,586.1 L412.6,585.7 L415.0,585.6 L415.0,585.2 L417.4,585.1 L417.4,584.7 L419.8,584.7 L419.8,584.3 L422.2,584.3 L422.2,584.0 L424.6,583.9 L424.6,583.7 L426.9,583.7 L426.9,583.5 L429.3,583.5 L429.3,583.4 L431.7,583.4 L431.7,583.4 L434.1,583.4 L434.1,583.4 L436.5,583.4 L436.5,583.5 L438.9,583.5 L438.9,583.6 L441.3,583.7 L441.3,583.9 L443.7,583.9 L443.7,584.3 L446.1,584.3 L446.1,584.7 L448.5,584.8 L448.5,585.2 L450.9,585.3 L450.9,585.7 L453.3,585.7 L453.3,586.1 L455.7,586.2 L455.7,586.6 L458.1,586.6 L458.1,587.0 L460.5,587.1 L460.5,587.4 L462.9,587.5 L462.9,587.8 L465.3,587.8 L465.3,588.1 L467.7,588.1 L467.7,588.4 L470.1,588.4 L470.1,588.7 L472.4,588.7 L472.4,589.0 L474.8,589.0 L474.8,589.3 L477.2,589.3 L477.2,589.6 L479.6,589.7 L479.6,590.0 L482.0,590.0 L482.0,590.3 L484.4,590.4 L484.4,590.7 L486.8,590.8 L486.8,591.0 L489.2,591.1 L489.2,591.3 L491.6,591.3 L491.6,591.5 L494.0,591.5 L494.0,591.7 L496.4,591.7 L496.4,591.8 L498.8,591.8 L498.8,591.9 L501.2,591.9 L501.2,592.1 L503.6,592.1 L503.6,592.3 L506.0,592.3 L506.0,592.6 L508.4,592.7 L508.4,593.0 L510.8,593.1 L510.8,593.6 L513.2,593.7 L513.2,594.3 L515.6,594.4 L515.6,595.1 L518.0,595.3 L518.0,596.0 L520.4,596.2 L520.4,596.9 L522.7,597.1 L522.7,597.8 L525.1,597.9 L525.1,598.7 L527.5,598.8 L527.5,599.5 L529.9,599.6 L529.9,600.2 L532.3,600.3 L532.3,601.0 L534.7,601.2 L534.7,601.9 L537.1,602.1 L537.1,602.9 L539.5,603.0 L539.5,603.9 L541.9,604.1 L541.9,605.0 L544.3,605.2 L544.3,606.2 L546.7,606.4 L546.7,607.5 L549.1,607.7 L549.1,608.8 L551.5,609.0 L551.5,610.3 L553.9,610.5 L553.9,611.8 L556.3,612.0 L556.3,613.4 L558.7,613.6 L558.7,615.1 L561.1,615.3 L561.1,616.9 L563.5,617.1 L563.5,618.7 L565.9,619.0 L565.9,620.5 L568.2,620.8 L568.2,622.3 L570.6,622.5 L570.6,624.1 L573.0,624.4 L573.0,626.1 L575.4,626.4 L575.4,628.2 L577.8,628.5 L577.8,630.4 L580.2,630.8 L580.2,632.9 L582.6,633.3 L582.6,635.6 L585.0,636.0 L585.0,638.1 L587.4,638.5 L587.4,640.4 L589.8,640.7 L589.8,642.4 L592.2,642.7 L592.2,644.1 L594.6,644.4 L594.6,645.7 L597.0,645.9 L597.0,647.1 L599.4,647.3 L599.4,648.6 L601.8,648.8 L601.8,650.3 L604.2,650.6 L604.2,652.2 L606.6,652.5 L606.6,654.2 L609.0,654.5 L609.0,656.1 L611.4,656.4 L611.4,658.1 L613.8,658.5 L613.8,660.3 L616.1,660.6 L616.1,662.7 L618.5,663.0 L618.5,665.2 L620.9,665.6 L620.9,667.9 L623.3,668.3 L623.3,670.6 L625.7,671.0 L625.7,673.4 L628.1,673.8 L628.1,676.1 L630.5,676.5 L630.5,678.8 L632.9,679.2 L632.9,681.5 L635.3,681.8 L635.3,683.9 L637.7,684.3 L637.7,686.3 L640.1,686.6 L640.1,688.6 L642.5,688.9 L642.5,690.9 L644.9,691.2 L644.9,693.3 L647.3,693.7 L647.3,695.9 L649.7,696.3 L649.7,698.7 L652.1,699.2 L652.1,701.7 L654.5,702.1 L654.5,704.6 L656.9,705.0 L656.9,707.2 L659.3,707.6 L659.3,709.8 L661.7,710.1 L661.7,712.4 L664.0,712.8 L664.0,715.1 L666.4,715.5 L666.4,718.0 L668.8,718.4 L668.8,721.0 L671.2,721.4 L671.2,724.0 L673.6,724.5 L673.6,727.0 L676.0,727.4 L676.0,729.6 L678.4,730.0 L678.4,731.8 L680.8,732.1 L680.8,733.7 L683.2,734.0 L683.2,735.7 L685.6,736.0 L685.6,737.8 L688.0,738.2 L688.0,740.1 L690.4,740.4 L690.4,742.3 L692.8,742.6 L692.8,744.4 L695.2,744.7 L695.2,746.4 L697.6,746.7 L697.6,748.5 L700.0,748.8 L700.0,750.5 L702.4,750.8 L702.4,752.7 L704.8,753.0 L704.8,755.0 L707.2,755.4 L707.2,757.4 L709.6,757.8 L709.6,760.0 L712.0,760.3 L712.0,762.5 L714.3,762.9 L714.3,765.0 L716.7,765.4 L716.7,767.3 L719.1,767.7 L719.1,769.5 L721.5,769.9 L721.5,771.6 L723.9,771.9 L723.9,773.5 L726.3,773.8 L726.3,775.2 L728.7,775.5 L728.7,776.8 L731.1,777.1 L731.1,778.3 L733.5,778.5 L733.5,779.7 L735.9,779.9 L735.9,781.0 L738.3,781.2 L738.3,782.2 L740.7,782.4 L740.7,783.4 L743.1,783.6 L743.1,784.7 L745.5,784.9 L745.5,786.0 L747.9,786.2 L747.9,787.3 L750.3,787.5 L750.3,788.7 L752.7,788.9 L752.7,790.2 L755.1,790.4 L755.1,791.6 L757.5,791.8 L757.5,792.9 L759.9,793.1 L759.9,794.2 L762.2,794.4 L762.2,795.4 L764.6,795.6 L764.6,796.5 L767.0,796.7 L767.0,797.6 L769.4,797.7 L769.4,798.6 L771.8,798.7 L771.8,799.6 L774.2,799.8 L774.2,800.6 L776.6,800.8 L776.6,801.6 L779.0,801.8 L779.0,802.6 L781.4,802.8 L781.4,803.6 L783.8,803.8 L783.8,804.6 L786.2,804.7 L786.2,805.5 L788.6,805.6 L788.6,806.4 L791.0,806.5 L791.0,807.2 L793.4,807.3 L793.4,808.0 L795.8,808.1 L795.8,808.7 L798.2,808.8 L798.2,809.4 L800.6,809.5 L800.6,810.0 L803.0,810.1 L803.0,810.5 L805.4,810.6 L805.4,811.0 L807.8,811.1 L807.8,811.4 L810.1,811.5 L810.1,811.8 L812.5,811.9 L812.5,812.1 L814.9,812.2 L814.9,812.4 L817.3,812.4 L817.3,812.6 L819.7,812.6 L819.7,812.8 L822.1,812.8 L822.1,812.9 L824.5,812.9 L824.5,813.0 L826.9,813.0 L826.9,813.1 L829.3,813.1 L829.3,813.0 L831.7,813.0 L831.7,812.9 L834.1,812.9 L834.1,812.7 L836.5,812.6 L836.5,812.4 L838.9,812.3 L838.9,812.1 L841.3,812.0 L841.3,811.7 L843.7,811.7 L843.7,811.3 L846.1,811.3 L846.1,810.8 L848.5,810.7 L848.5,810.2 L850.9,810.2 L850.9,809.6 L853.3,809.5 L853.3,809.0 L855.6,808.9 L855.6,808.3 L858.0,808.2 L858.0,807.7 L860.4,807.6 L860.4,807.1 L862.8,807.0 L862.8,806.4 L865.2,806.3 L865.2,805.7 L867.6,805.6 L867.6,805.0 L870.0,804.9 L870.0,804.3 L872.4,804.2 L872.4,803.5 L874.8,803.3 L874.8,802.6 L877.2,802.5 L877.2,801.7 L879.6,801.6 L879.6,800.7 L882.0,800.6 L882.0,799.7 L884.4,799.6 L884.4,798.7 L886.8,798.6 L886.8,797.7 L889.2,797.5 L889.2,796.6 L891.6,796.5 L891.6,795.5 L894.0,795.3 L894.0,794.2 L896.4,794.0 L896.4,792.6 L898.8,792.4 L898.8,790.5 L901.2,790.1 L901.2,787.7 L903.5,787.3 L903.5,784.9 L905.9,784.6 L905.9,782.7 L908.3,782.4 L908.3,780.8 L910.7,780.5 L910.7,778.9 L913.1,778.6 L913.1,776.8 L915.5,776.5 L915.5,774.7 L917.9,774.4 L917.9,772.6 L920.3,772.3 L920.3,770.6 L922.7,770.2 L922.7,768.5 L925.1,768.1 L925.1,766.3 L927.5,766.0 L927.5,764.1 L929.9,763.7 L929.9,761.8 L932.3,761.4 L932.3,759.3 L934.7,758.9 L934.7,756.6 L937.1,756.2 L937.1,753.9 L939.5,753.5 L939.5,751.3 L941.9,750.9 L941.9,748.8 L944.3,748.4 L944.3,746.2 L946.7,745.8 L946.7,743.2 L949.1,742.7 L949.1,739.8 L951.5,739.3 L951.5,736.5 L953.8,736.0 L953.8,733.5 L956.2,733.1 L956.2,730.9 L958.6,730.5 L958.6,728.6 L961.0,728.3 L961.0,726.8 L963.4,726.5 L963.4,725.1 L965.8,724.8 L965.8,723.1 L968.2,722.8 L968.2,720.6 L970.6,720.2 L970.6,717.7 L973.0,717.3 L973.0,714.9 L975.4,714.4 L975.4,712.1 L977.8,711.7 L977.8,709.5 L980.2,709.1 L980.2,706.7 L982.6,706.3 L982.6,703.9 L985.0,703.5 L985.0,701.1 L987.4,700.7 L987.4,698.3 L989.8,697.9 L989.8,695.6 L992.2,695.2 L992.2,692.9 L994.6,692.5 L994.6,690.4 L997.0,690.0 L997.0,687.9 L999.4,687.5 L999.4,685.6 L1001.7,685.3 L1001.7,683.6 L1004.1,683.3 L1004.1,681.7 L1006.5,681.5 L1006.5,680.0 L1008.9,679.7 L1008.9,678.3 L1011.3,678.0 L1011.3,676.5 L1013.7,676.3 L1013.7,674.9 L1016.1,674.6 L1016.1,673.3 L1018.5,673.0 L1018.5,671.7 L1020.9,671.5 L1020.9,670.2 L1023.3,670.0 L1023.3,668.6 L1025.7,668.4 L1025.7,667.1 L1028.1,666.9 L1028.1,665.8 L1030.5,665.6 L1030.5,664.8 L1032.9,664.7 L1032.9,664.1 L1035.3,664.0 L1035.3,663.5 L1037.7,663.5 L1037.7,663.1 L1040.1,663.0 L1040.1,662.7 L1042.5,662.6 L1042.5,662.5 L1044.9,662.5 L1044.9,662.5 L1047.2,662.5 L1047.2,662.7 L1049.6,662.7 L1049.6,662.9 L1052.0,662.9 L1052.0,663.2 L1054.4,663.2 L1054.4,663.6 L1056.8,663.7 L1056.8,664.1 L1059.2,664.2 L1059.2,664.8 L1061.6,664.9 L1061.6,665.6 L1064.0,665.7 L1064.0,666.6 L1066.4,666.7 L1066.4,667.7 L1068.8,667.9 L1068.8,669.0 L1071.2,669.2 L1071.2,670.5 L1073.6,670.8 L1073.6,672.2 L1076.0,672.5 L1076.0,674.0 L1078.4,674.3 L1078.4,675.9 L1080.8,676.2 L1080.8,677.7 L1083.2,678.0 L1083.2,679.6 L1085.6,679.9 L1085.6,681.7 L1088.0,682.1 L1088.0,684.2 L1090.4,684.6 L1090.4,686.9 L1092.8,687.3 L1092.8,689.5 L1095.2,689.8 L1095.2,691.9 L1097.5,692.2 L1097.5,694.3 L1099.9,694.7 L1099.9,697.0 L1102.3,697.4 L1102.3,700.0 L1104.7,700.5 L1104.7,703.3 L1107.1,703.8 L1107.1,706.9 L1109.5,707.5 L1109.5,710.9 L1111.9,711.6 L1111.9,715.4 L1114.3,716.1 L1114.3,720.1 L1116.7,720.8 L1116.7,724.5 L1119.1,725.1 L1119.1,728.6 L1121.5,729.2 L1121.5,732.6 L1123.9,733.1 L1123.9,736.5 L1126.3,737.1 L1126.3,740.5 L1128.7,741.1 L1128.7,744.5 L1131.1,745.1 L1131.1,748.4 L1133.5,749.0 L1133.5,752.1 L1135.9,752.6 L1135.9,755.5 L1138.3,755.9 L1138.3,758.7 L1140.7,759.2 L1140.7,762.1 L1143.0,762.6 L1143.0,765.6 L1145.4,766.1 L1145.4,769.3 L1147.8,769.9 L1147.8,773.3 L1150.2,773.9 L1150.2,777.7 L1152.6,778.4 L1152.6,782.5 L1155.0,783.2 L1155.0,787.2 L1157.4,787.8 L1157.4,791.4 L1159.8,792.0 L1159.8,795.4 L1162.2,796.0 L1162.2,799.3 L1164.6,799.9 L1164.6,803.6 L1167.0,804.2 L1167.0,808.2 L1169.4,808.9 L1169.4,813.1 L1171.8,813.8 L1171.8,818.1 L1174.2,818.9 L1174.2,823.3 L1176.6,824.0 L1176.6,828.1 L1179.0,828.8 L1179.0,832.3 L1181.4,832.9 L1181.4,835.9 L1183.8,836.4 L1183.8,839.3 L1186.2,839.9 L1186.2,843.1 L1188.6,843.8 L1188.6,847.7 L1191.0,848.4 L1191.0,852.5 L1193.3,853.2 L1193.3,857.0 L1195.7,857.6 L1195.7,860.9 L1198.1,861.4 L1198.1,864.4 L1200.5,864.9 L1200.5,867.6 L1202.9,868.1 L1202.9,870.7 L1205.3,871.1 L1205.3,873.6 L1207.7,874.0 L1207.7,876.3 L1210.1,876.7 L1210.1,879.0 L1212.5,879.4 L1212.5,881.5 L1214.9,881.9 L1214.9,884.0 L1217.3,884.3 L1217.3,886.4 L1219.7,886.7 L1219.7,888.7 L1222.1,889.0 L1222.1,891.0 L1224.5,891.3 L1224.5,893.3 L1226.9,893.7 L1226.9,895.6 L1229.3,896.0 L1229.3,897.9 L1231.7,898.2 L1231.7,900.1 L1234.1,900.4 L1234.1,902.3 L1236.5,902.6 L1236.5,904.3 L1238.8,904.6 L1238.8,906.2 L1241.2,906.4 L1241.2,907.9 L1243.6,908.2 L1243.6,909.6 L1246.0,909.8 L1246.0,911.1 L1248.4,911.4 L1248.4,912.6 L1250.8,912.8 L1250.8,914.0 L1253.2,914.3 L1253.2,915.4 L1255.6,915.6 L1255.6,916.7 L1258.0,916.9 L1258.0,917.9 L1260.4,918.1 L1260.4,919.1 L1262.8,919.3 L1262.8,920.2 L1265.2,920.4 L1265.2,921.3 L1267.6,921.5 L1267.6,922.4 L1270.0,922.5 L1270.0,923.4 L1272.4,923.6 L1272.4,924.4 L1274.8,924.5 L1274.8,925.4 L1277.2,925.5 L1277.2,926.3 L1279.6,926.4 L1279.6,927.1 L1282.0,927.2 L1282.0,927.9 L1284.4,928.0 L1284.4,928.6 L1286.8,928.7 L1286.8,929.3 L1289.1,929.4 L1289.1,930.0 L1291.5,930.1 L1291.5,930.6 L1293.9,930.7 L1293.9,931.2 L1296.3,931.2 L1296.3,931.7 L1298.7,931.8 L1298.7,932.2 L1301.1,932.3 L1301.1,932.7 L1303.5,932.8 L1303.5,933.2 L1305.9,933.3 L1305.9,933.7 L1308.3,933.7 L1308.3,934.1 L1310.7,934.2 L1310.7,934.5 L1313.1,934.6 L1313.1,935.0 L1315.5,935.0 L1315.5,935.4 L1317.9,935.4 L1317.9,935.8 L1320.3,935.9 L1320.3,936.2 L1322.7,936.2 L1322.7,936.5 L1325.1,936.6 L1325.1,936.8 L1327.5,936.8 L1327.5,937.0 L1329.9,937.1 L1329.9,937.2 L1332.3,937.3 L1332.3,937.4 L1334.7,937.4 L1334.7,937.6 L1337.0,937.6 L1337.0,937.7 L1339.4,937.7 L1339.4,937.9 L1341.8,937.9 L1341.8,938.0 L1344.2,938.0 L1344.2,938.2 L1346.6,938.2 L1346.6,938.3 L1349.0,938.4 L1349.0,938.5 L1351.4,938.5 L1351.4,938.6 L1353.8,938.7 L1353.8,938.8 L1356.2,938.8 L1356.2,938.9 L1358.6,938.9 L1358.6,939.1 L1361.0,939.1 L1361.0,939.2 L1363.4,939.2 L1363.4,939.4 L1365.8,939.4 L1365.8,939.4 L1368.2,939.5 L1368.2,939.5 L1370.6,939.5 L1370.6,939.5 L1373.0,939.5 L1373.0,939.5 L1375.4,939.5 L1375.4,939.5 L1377.8,939.5 L1377.8,939.5 L1380.2,939.5 L1380.2,939.5 L1382.5,939.5 L1382.5,939.5 L1384.9,939.5 L1384.9,939.5 L1387.3,939.5 L1387.3,939.6 L1389.7,939.6 L1389.7,939.7 L1392.1,939.7 L1392.1,939.8 L1394.5,939.8 L1394.5,939.9 L1396.9,939.9 L1396.9,939.9 L1399.3,940.0 L1399.3,940.1 L1401.7,940.1 L1401.7,940.2 L1404.1,940.2 L1404.1,940.3 L1406.5,940.3 L1406.5,940.5 L1408.9,940.5 L1408.9,940.6 L1411.3,940.6 L1411.3,940.8 L1413.7,940.9 L1413.7,941.1 L1416.1,941.1 L1416.1,941.3 L1418.5,941.3 L1418.5,941.6 L1420.9,941.6 L1420.9,941.8 L1423.3,941.9 L1423.3,942.1 L1425.7,942.1 L1425.7,942.3 L1428.1,942.4 L1428.1,942.6 L1430.5,942.6 L1430.5,942.9 L1432.8,942.9 L1432.8,943.2 L1435.2,943.2 L1435.2,943.4 L1437.6,943.5 L1437.6,943.7 L1440.0,943.8 L1440.0,944.0 L1442.4,944.1 L1442.4,944.4 L1444.8,944.4 L1444.8,944.7 L1447.2,944.7 L1447.2,945.0 L1449.6,945.1 L1449.6,945.3 L1452.0,945.4 L1452.0,945.7 L1454.4,945.8 L1454.4,946.1 L1456.8,946.1 L1456.8,946.4 L1459.2,946.5 L1459.2,946.8 L1461.6,946.9 L1461.6,947.2 L1464.0,947.2 L1464.0,947.6 L1466.4,947.6 L1466.4,948.0 L1468.8,948.0 L1468.8,948.4 L1471.2,948.5 L1471.2,948.8 L1473.6,948.9 L1473.6,949.2 L1476.0,949.3 L1476.0,949.7 L1478.3,949.7 L1478.3,950.1 L1480.7,950.2 L1480.7,950.5 L1483.1,950.6 L1483.1,950.9 L1485.5,951.0 L1485.5,951.3 L1487.9,951.4 L1487.9,951.7 L1490.3,951.8 L1490.3,952.1 L1492.7,952.2 L1492.7,952.5 L1495.1,952.6 L1495.1,952.9 L1497.5,952.9 L1497.5,953.2 L1499.9,953.2 L1499.9,953.5 L1502.3,953.6 L1502.3,953.9 L1504.7,953.9 L1504.7,954.3 L1507.1,954.3 L1507.1,954.7 L1509.5,954.7 L1509.5,955.1 L1511.9,955.2 L1511.9,955.5 L1514.3,955.6 L1514.3,956.0 L1516.7,956.0 L1516.7,956.4 L1519.1,956.4 L1519.1,956.8 L1521.5,956.8 L1521.5,957.1 L1523.9,957.2 L1523.9,957.5 L1526.2,957.6 L1526.2,957.9 L1528.6,957.9 L1528.6,958.2 L1531.0,958.3 L1531.0,958.5 L1533.4,958.6 L1533.4,958.8 L1535.8,958.9 L1535.8,959.1 L1538.2,959.2 L1538.2,959.4 L1540.6,959.4 L1540.6,959.7 L1543.0,959.7 L1543.0,959.9 L1545.4,960.0 L1545.4,960.2 L1547.8,960.2 L1547.8,960.4 L1550.2,960.4 L1550.2,960.6 L1552.6,960.6 L1552.6,960.8 L1555.0,960.8 L1555.0,961.0 L1557.4,961.0 L1557.4,961.1 L1559.8,961.2 L1559.8,961.3 L1562.2,961.3 L1562.2,961.4 L1564.6,961.5 L1564.6,961.6 L1567.0,961.6 L1567.0,961.7 L1569.4,961.8 L1569.4,961.9 L1571.8,961.9 L1571.8,961.9 L1574.2,962.0 L1574.2,962.0 L1576.5,962.0 L1576.5,961.9 L1578.9,961.9 L1578.9,961.9 L1581.3,961.9 L1581.3,961.7 L1583.7,961.7 L1583.7,961.6 L1586.1,961.6 L1586.1,961.4 L1588.5,961.4 L1588.5,961.3 L1590.9,961.3 L1590.9,961.1 L1593.3,961.1 L1593.3,960.9 L1595.7,960.9 L1595.7,960.7 L1598.1,960.7 L1598.1,960.5 L1600.5,960.5 L1600.5,960.3 L1602.9,960.3 L1602.9,960.2 L1605.3,960.2 L1605.3,960.1 L1607.7,960.1 L1607.7,960.0 L1610.1,959.9 L1610.1,959.8 L1612.5,959.8 L1612.5,959.6 L1614.9,959.6 L1614.9,959.4 L1617.3,959.4 L1617.3,959.2 L1619.7,959.2 L1619.7,958.9 L1622.0,958.9 L1622.0,958.7 L1624.4,958.7 L1624.4,958.5 L1626.8,958.4 L1626.8,958.2 L1629.2,958.2 L1629.2,958.0 L1631.6,957.9 L1631.6,957.7 L1634.0,957.7 L1634.0,957.5 L1636.4,957.4 L1636.4,957.2 L1638.8,957.2 L1638.8,957.1 L1639.0,957.1"/>
<use href="#dK" x="1.0"/>
</g>
<g fill="#000" font-family="'Liberation Serif', serif">
<g font-size="45" text-anchor="middle">
<text transform="translate(209.5,1093.7) scale(1.0,1.06)">100</text>
<text transform="translate(447.9,1093.7) scale(1.0,1.06)">200</text>
<text transform="translate(688.0,1093.7) scale(1.0,1.06)">300</text>
<text transform="translate(928.4,1093.7) scale(1.0,1.06)">400</text>
<text transform="translate(1166.5,1093.7) scale(1.0,1.06)">500</text>
<text transform="translate(1407.4,1093.7) scale(1.0,1.06)">600</text>
<text transform="translate(1645.7,1093.7) scale(1.0,1.06)">700</text>
</g>
<text x="647.9" y="1152" font-size="55">Temperature (°C)</text>
<text transform="translate(67,694) rotate(-90)" font-size="55" letter-spacing="0.17">TCD signal (a.u.)</text>
<text x="1259.6" y="325.8" font-size="55">MnO<tspan font-size="32" dx="1" dy="19">x</tspan><tspan dy="-19">/HZ-ET</tspan></text>
<text x="1271.7" y="795.8" font-size="55">MnO<tspan font-size="32" dx="1" dy="19">x</tspan><tspan dy="-19">/Z-P</tspan></text>
</g>
<defs><clipPath id="one"><rect x="0" y="-50" width="32" height="45.00"/><rect x="13.5" y="-6" width="5.9" height="8"/></clipPath></defs>
<g fill="#000" font-family="'Liberation Sans', sans-serif" font-size="55.5">
<text transform="translate(276.9,94.5) scale(1,1.02)" clip-path="url(#one)">1</text>
<text transform="translate(305.1,94.5) scale(1,1.02)">9</text>
<text transform="translate(335.9,94.5) scale(1,1.02)">5</text>
<text transform="translate(823.2,264.0) scale(1,1.02)">3</text>
<text transform="translate(853.9,264.0) scale(1,1.02)">6</text>
<text transform="translate(885.3,264.0) scale(1,1.02)">8</text>
<text transform="translate(281.5,584.5) scale(1,1.02)">2</text>
<text transform="translate(314.0,584.5) scale(1,1.02)" clip-path="url(#one)">1</text>
<text transform="translate(343.1,584.5) scale(1,1.02)">9</text>
<text transform="translate(984.2,635.7) scale(1,1.02)">4</text>
<text transform="translate(1015.8,635.7) scale(1,1.02)">4</text>
<text transform="translate(1048.0,635.7) scale(1,1.02)" clip-path="url(#one)">1</text>
</g>
</svg>
</body>
</html>
